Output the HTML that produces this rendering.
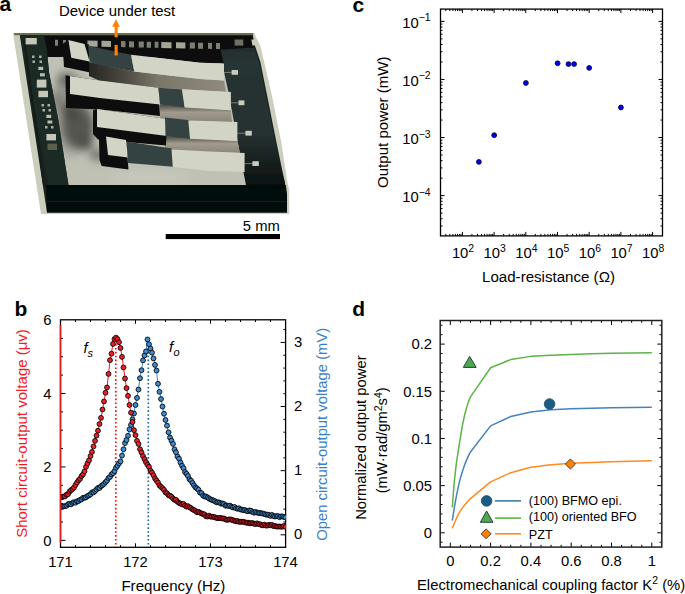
<!DOCTYPE html>
<html><head><meta charset="utf-8"><style>
html,body{margin:0;padding:0;background:#fff;}
svg{display:block;font-family:"Liberation Sans", sans-serif;}
</style></head><body>
<svg width="685" height="594" viewBox="0 0 685 594">
<defs>
<filter id="soft" x="-5%" y="-5%" width="110%" height="110%"><feGaussianBlur stdDeviation="0.45"/></filter>
<filter id="blur4" x="-50%" y="-50%" width="200%" height="200%"><feGaussianBlur stdDeviation="6"/></filter>
<linearGradient id="gband1" gradientUnits="userSpaceOnUse" x1="89" y1="0" x2="226" y2="0"><stop offset="0" stop-color="#262622"/><stop offset="0.25" stop-color="#4a473f"/><stop offset="0.5" stop-color="#7a766a"/><stop offset="1" stop-color="#8e8a7d"/></linearGradient>
<linearGradient id="gband2" x1="0" y1="0" x2="0" y2="1"><stop offset="0" stop-color="#4a4740"/><stop offset="0.45" stop-color="#a19c8e"/><stop offset="1" stop-color="#8a8579"/></linearGradient>
<linearGradient id="gframe" gradientUnits="userSpaceOnUse" x1="0" y1="44" x2="0" y2="192"><stop offset="0" stop-color="#222c2c"/><stop offset="0.12" stop-color="#283434"/><stop offset="0.6" stop-color="#263131"/><stop offset="0.82" stop-color="#161e1d"/><stop offset="1" stop-color="#080c0b"/></linearGradient>
<filter id="blur3" x="-50%" y="-50%" width="200%" height="200%"><feGaussianBlur stdDeviation="4"/></filter>
</defs>
<rect width="685" height="594" fill="#fff"/>
<g filter="url(#soft)">
<polygon points="13,33 254,33 260.4,46 271.6,94 281.2,142 287.6,183.5 289.2,190 289.2,214 41,214" fill="#c9cebd" />
<polygon points="19.5,33.5 252.5,33.5 254,42.8 260.4,62 266.8,94 276.4,142 284.4,180.4 287,196 287,212.6 47,212.6" fill="#1b2422" />
<polygon points="220.5,49 254,47.5 259,62 265.5,94 275,142 282,172 284.4,180.4 286,190 246,190 242,165 229,95" fill="url(#gframe)" />
<polygon points="45,57 221,57 229,95 242,165 246,185 68.5,185 65.7,167.8 62.1,144.3 58.6,120.7 53.9,97 49.2,73.6 46.8,50" fill="#bfc1b5" />
<ellipse cx="72" cy="115" rx="20" ry="40" fill="#8a8a82" opacity="0.7" filter="url(#blur4)"/>
<g filter="url(#blur3)">
<ellipse cx="78" cy="127" rx="15" ry="21" fill="#55554f"/>
<ellipse cx="70" cy="112" rx="8" ry="10" fill="#4a4a45"/>
<ellipse cx="85" cy="142" rx="8" ry="8" fill="#505049"/>
<ellipse cx="66" cy="80" rx="9" ry="7" fill="#6a6a63"/>
<ellipse cx="58" cy="100" rx="5" ry="10" fill="#7a7a72"/>
<ellipse cx="97" cy="155" rx="7" ry="6" fill="#6f6f68"/>
</g>
<ellipse cx="150" cy="178" rx="40" ry="5" fill="#d0d2c6" opacity="0.6" filter="url(#blur4)"/>
<polygon points="19.5,33.5 252.5,33.5 254.5,47.5 220.5,49.5 222,57 224,63.5 200,62.8 131,54.8 100,48 89,44.6 60,57 45,57" fill="#0b100d" />
<polygon points="14,33 253,33 253.6,35.2 14.3,35.2" fill="#6a6f50" />
<polygon points="20.5,36 44,36 46.8,50 49.2,73.6 53.9,97 58.6,120.7 62.1,144.3 65.7,167.8 68,182 68.5,185 49,185" fill="#1e2927" />
<polygon points="23,40 25,40 45,185 43,185" fill="#121a18" />
<polygon points="46,185 286,185 287,196 287,212.6 47,212.6" fill="#060908" />
<polygon points="47,201 287,201 287,202.5 47,202.5" fill="#141a18" />
<polygon points="55,39.8 58,39.86 58,45.86 55,45.8" fill="#7c8072" />
<polygon points="63,39.96 66,40.02 66,46.02 63,45.96" fill="#7c8072" />
<polygon points="87.4,40.45 97.6,40.65 97.6,46.65 87.4,46.45" fill="#a3a697" />
<polygon points="101.5,40.73 111,40.92 111,46.92 101.5,46.73" fill="#a3a697" />
<polygon points="121,41.12 125.5,41.21 125.5,47.21 121,47.12" fill="#7c8072" />
<polygon points="129,41.28 134,41.38 134,47.38 129,47.28" fill="#7c8072" />
<polygon points="138.7,41.47 143.8,41.58 143.8,47.58 138.7,47.47" fill="#7c8072" />
<polygon points="146.7,41.63 151,41.72 151,47.72 146.7,47.63" fill="#7c8072" />
<polygon points="154.7,41.79 158.4,41.87 158.4,47.87 154.7,47.79" fill="#7c8072" />
<polygon points="161.3,41.93 171.5,42.13 171.5,48.13 161.3,47.93" fill="#a3a697" />
<polygon points="176,42.22 185.4,42.41 185.4,48.41 176,48.22" fill="#a3a697" />
<polygon points="189.8,42.5 195,42.6 195,48.6 189.8,48.5" fill="#7c8072" />
<polygon points="198,42.66 203,42.76 203,48.76 198,48.66" fill="#7c8072" />
<polygon points="208,42.86 212,42.94 212,48.94 208,48.86" fill="#7c8072" />
<polygon points="216,43.02 220,43.1 220,49.1 216,49.02" fill="#7c8072" />
<polygon points="234.6,39.5 243.3,39.5 243.3,45.6 234.6,45.6" fill="#6d7163" />
<polygon points="251.3,39.5 257,39.5 259.4,45.4 252.5,45.4" fill="#c9ccbc" />
<polygon points="25.6,38 36.8,38 36.8,44.4 25.6,44.4" fill="#c5c8b8" />
<polygon points="32,55.5 34.5,55.5 34.5,58 32,58" fill="#aab0a0" />
<polygon points="39,55.5 41.6,55.5 41.6,58 39,58" fill="#aab0a0" />
<polygon points="32.5,60.5 35,60.5 35,63 32.5,63" fill="#aab0a0" />
<polygon points="39.5,60.5 42,60.5 42,63 39.5,63" fill="#aab0a0" />
<polygon points="38.4,66.8 43.2,66.8 43.2,70 38.4,70" fill="#b8bcac" />
<polygon points="40,73.2 44.8,73.2 44.8,76.4 40,76.4" fill="#b8bcac" />
<polygon points="36.8,79.6 46.4,79.6 46.4,87.6 36.8,87.6" fill="#c5c8b8" />
<polygon points="38.4,90.8 48,90.8 48,97.2 38.4,97.2" fill="#c5c8b8" />
<polygon points="41.5,104 44,104 44,106.5 41.5,106.5" fill="#aab0a0" />
<polygon points="47.5,104 50,104 50,106.5 47.5,106.5" fill="#aab0a0" />
<polygon points="42.5,109 45,109 45,111.5 42.5,111.5" fill="#aab0a0" />
<polygon points="48.5,109 51,109 51,111.5 48.5,111.5" fill="#aab0a0" />
<polygon points="46.4,114.8 51.2,114.8 51.2,118 46.4,118" fill="#b8bcac" />
<polygon points="47.5,120.5 52.3,120.5 52.3,123.5 47.5,123.5" fill="#b8bcac" />
<polygon points="45,126 47.5,126 47.5,128.5 45,128.5" fill="#aab0a0" />
<polygon points="51,126 53.5,126 53.5,128.5 51,128.5" fill="#aab0a0" />
<polygon points="46.4,134 56,134 56,140.4 46.4,140.4" fill="#c5c8b8" />
<polygon points="47.5,143.6 57,143.6 57,150 47.5,150" fill="#5a5e50" />
<polygon points="89,62 133.6,71.6 200,79 224,80.4 226,92 160,88 100,81 89,76" fill="url(#gband1)" />
<polygon points="62.5,44 68.4,39.9 84.5,43.9 89,44.6 89,72.3 64,67" fill="#0a0e0c" />
<polygon points="68.4,39.9 84.5,43.9 89.6,61.4 71.3,57.7" fill="#d2d5c5" />
<polygon points="88,45.5 100,48.5 131,54.8 134.3,71.6 100,65 89.6,62" fill="#344242" />
<polygon points="131,54.8 200,62.8 224,63.5 224,80.4 200,79 134.3,71.6" fill="#d2d5c5" />
<polygon points="160,104.5 230.9,110.3 232,122 190,121 160,118" fill="url(#gband2)" />
<polygon points="65.5,75.3 70,76 100,80.4 158.4,87.7 160,116 100,109.6 66,108" fill="#0a0e0c" />
<polygon points="70,76 100,80.4 158.4,87.7 160,104.5 100,98 70,94" fill="#d2d5c5" />
<polygon points="158.4,87.7 183,89.5 184.7,107.4 160,104.5" fill="#344242" />
<polygon points="181.8,89.3 230.9,92 230.9,110.3 184.7,107.4" fill="#d2d5c5" />
<polygon points="165,136 237.4,141 240,153 200,152 165,150" fill="url(#gband2)" />
<polygon points="93,110 97,109 167,119 166,145.5 98,139.5 93,134" fill="#0a0e0c" />
<polygon points="97,109 167,119 167,136 97,127" fill="#d2d5c5" />
<polygon points="165,117.6 189.5,120.3 190.5,138.8 165.5,136.2" fill="#344242" />
<polygon points="188.3,120.5 237.4,122 237.4,141 190,138.8" fill="#d2d5c5" />
<polygon points="99,139 106,136.6 126,140 128.5,169.5 101.7,166 99.5,160" fill="#0a0e0c" />
<polygon points="106,136.6 126,140 128,157.5 108,155" fill="#d2d5c5" />
<polygon points="126.5,141.5 172,148.5 173.5,166.8 128,163" fill="#344242" />
<polygon points="171.5,149.5 210,151.5 244.6,153 244.6,172 210,171 172.8,167" fill="#d2d5c5" />
<line x1="224" y1="72.4" x2="231.6" y2="72.4" stroke="#8c9488" stroke-width="0.8" />
<polygon points="231.6,70 238,70 238,74.8 231.6,74.8" fill="#c9ccbc" />
<line x1="231" y1="102.8" x2="238.5" y2="102.8" stroke="#8c9488" stroke-width="0.8" />
<polygon points="238.5,100.4 244.4,100.4 244.4,105.2 238.5,105.2" fill="#c9ccbc" />
<line x1="237.4" y1="133.2" x2="245.4" y2="133.2" stroke="#8c9488" stroke-width="0.8" />
<polygon points="245.4,130.8 251.8,130.8 251.8,135.6 245.4,135.6" fill="#c9ccbc" />
<line x1="244.6" y1="163.6" x2="252.4" y2="163.6" stroke="#8c9488" stroke-width="0.8" />
<polygon points="252.4,161.2 258.8,161.2 258.8,166 252.4,166" fill="#c9ccbc" />
</g>
<polygon points="116,19.2 112.1,26.7 119.9,26.7" fill="#ff8200" />
<rect x="114.6" y="26" width="3.1" height="11.3" fill="#ff8200"/>
<rect x="114.6" y="44.9" width="3.1" height="10.6" fill="#ff8200"/>
<text x="59" y="15.9" font-size="14.95" text-anchor="start" fill="#000" >Device under test</text>
<rect x="165.7" y="234" width="114.3" height="5.1" fill="#000"/>
<text x="279.8" y="230.6" font-size="14.8" text-anchor="end" fill="#000" >5 mm</text>
<line x1="445.82" y1="235.9" x2="445.82" y2="233.9" stroke="#000" stroke-width="1" />
<line x1="445.82" y1="9.1" x2="445.82" y2="11.1" stroke="#000" stroke-width="1" />
<line x1="449.79" y1="235.9" x2="449.79" y2="233.9" stroke="#000" stroke-width="1" />
<line x1="449.79" y1="9.1" x2="449.79" y2="11.1" stroke="#000" stroke-width="1" />
<line x1="452.86" y1="235.9" x2="452.86" y2="233.9" stroke="#000" stroke-width="1" />
<line x1="452.86" y1="9.1" x2="452.86" y2="11.1" stroke="#000" stroke-width="1" />
<line x1="455.37" y1="235.9" x2="455.37" y2="233.9" stroke="#000" stroke-width="1" />
<line x1="455.37" y1="9.1" x2="455.37" y2="11.1" stroke="#000" stroke-width="1" />
<line x1="457.49" y1="235.9" x2="457.49" y2="233.9" stroke="#000" stroke-width="1" />
<line x1="457.49" y1="9.1" x2="457.49" y2="11.1" stroke="#000" stroke-width="1" />
<line x1="459.33" y1="235.9" x2="459.33" y2="233.9" stroke="#000" stroke-width="1" />
<line x1="459.33" y1="9.1" x2="459.33" y2="11.1" stroke="#000" stroke-width="1" />
<line x1="460.95" y1="235.9" x2="460.95" y2="233.9" stroke="#000" stroke-width="1" />
<line x1="460.95" y1="9.1" x2="460.95" y2="11.1" stroke="#000" stroke-width="1" />
<line x1="462.4" y1="235.9" x2="462.4" y2="231.9" stroke="#000" stroke-width="1" />
<line x1="462.4" y1="9.1" x2="462.4" y2="13.1" stroke="#000" stroke-width="1" />
<line x1="471.94" y1="235.9" x2="471.94" y2="233.9" stroke="#000" stroke-width="1" />
<line x1="471.94" y1="9.1" x2="471.94" y2="11.1" stroke="#000" stroke-width="1" />
<line x1="477.52" y1="235.9" x2="477.52" y2="233.9" stroke="#000" stroke-width="1" />
<line x1="477.52" y1="9.1" x2="477.52" y2="11.1" stroke="#000" stroke-width="1" />
<line x1="481.49" y1="235.9" x2="481.49" y2="233.9" stroke="#000" stroke-width="1" />
<line x1="481.49" y1="9.1" x2="481.49" y2="11.1" stroke="#000" stroke-width="1" />
<line x1="484.56" y1="235.9" x2="484.56" y2="233.9" stroke="#000" stroke-width="1" />
<line x1="484.56" y1="9.1" x2="484.56" y2="11.1" stroke="#000" stroke-width="1" />
<line x1="487.07" y1="235.9" x2="487.07" y2="233.9" stroke="#000" stroke-width="1" />
<line x1="487.07" y1="9.1" x2="487.07" y2="11.1" stroke="#000" stroke-width="1" />
<line x1="489.19" y1="235.9" x2="489.19" y2="233.9" stroke="#000" stroke-width="1" />
<line x1="489.19" y1="9.1" x2="489.19" y2="11.1" stroke="#000" stroke-width="1" />
<line x1="491.03" y1="235.9" x2="491.03" y2="233.9" stroke="#000" stroke-width="1" />
<line x1="491.03" y1="9.1" x2="491.03" y2="11.1" stroke="#000" stroke-width="1" />
<line x1="492.65" y1="235.9" x2="492.65" y2="233.9" stroke="#000" stroke-width="1" />
<line x1="492.65" y1="9.1" x2="492.65" y2="11.1" stroke="#000" stroke-width="1" />
<line x1="494.1" y1="235.9" x2="494.1" y2="231.9" stroke="#000" stroke-width="1" />
<line x1="494.1" y1="9.1" x2="494.1" y2="13.1" stroke="#000" stroke-width="1" />
<line x1="503.64" y1="235.9" x2="503.64" y2="233.9" stroke="#000" stroke-width="1" />
<line x1="503.64" y1="9.1" x2="503.64" y2="11.1" stroke="#000" stroke-width="1" />
<line x1="509.22" y1="235.9" x2="509.22" y2="233.9" stroke="#000" stroke-width="1" />
<line x1="509.22" y1="9.1" x2="509.22" y2="11.1" stroke="#000" stroke-width="1" />
<line x1="513.19" y1="235.9" x2="513.19" y2="233.9" stroke="#000" stroke-width="1" />
<line x1="513.19" y1="9.1" x2="513.19" y2="11.1" stroke="#000" stroke-width="1" />
<line x1="516.26" y1="235.9" x2="516.26" y2="233.9" stroke="#000" stroke-width="1" />
<line x1="516.26" y1="9.1" x2="516.26" y2="11.1" stroke="#000" stroke-width="1" />
<line x1="518.77" y1="235.9" x2="518.77" y2="233.9" stroke="#000" stroke-width="1" />
<line x1="518.77" y1="9.1" x2="518.77" y2="11.1" stroke="#000" stroke-width="1" />
<line x1="520.89" y1="235.9" x2="520.89" y2="233.9" stroke="#000" stroke-width="1" />
<line x1="520.89" y1="9.1" x2="520.89" y2="11.1" stroke="#000" stroke-width="1" />
<line x1="522.73" y1="235.9" x2="522.73" y2="233.9" stroke="#000" stroke-width="1" />
<line x1="522.73" y1="9.1" x2="522.73" y2="11.1" stroke="#000" stroke-width="1" />
<line x1="524.35" y1="235.9" x2="524.35" y2="233.9" stroke="#000" stroke-width="1" />
<line x1="524.35" y1="9.1" x2="524.35" y2="11.1" stroke="#000" stroke-width="1" />
<line x1="525.8" y1="235.9" x2="525.8" y2="231.9" stroke="#000" stroke-width="1" />
<line x1="525.8" y1="9.1" x2="525.8" y2="13.1" stroke="#000" stroke-width="1" />
<line x1="535.34" y1="235.9" x2="535.34" y2="233.9" stroke="#000" stroke-width="1" />
<line x1="535.34" y1="9.1" x2="535.34" y2="11.1" stroke="#000" stroke-width="1" />
<line x1="540.92" y1="235.9" x2="540.92" y2="233.9" stroke="#000" stroke-width="1" />
<line x1="540.92" y1="9.1" x2="540.92" y2="11.1" stroke="#000" stroke-width="1" />
<line x1="544.89" y1="235.9" x2="544.89" y2="233.9" stroke="#000" stroke-width="1" />
<line x1="544.89" y1="9.1" x2="544.89" y2="11.1" stroke="#000" stroke-width="1" />
<line x1="547.96" y1="235.9" x2="547.96" y2="233.9" stroke="#000" stroke-width="1" />
<line x1="547.96" y1="9.1" x2="547.96" y2="11.1" stroke="#000" stroke-width="1" />
<line x1="550.47" y1="235.9" x2="550.47" y2="233.9" stroke="#000" stroke-width="1" />
<line x1="550.47" y1="9.1" x2="550.47" y2="11.1" stroke="#000" stroke-width="1" />
<line x1="552.59" y1="235.9" x2="552.59" y2="233.9" stroke="#000" stroke-width="1" />
<line x1="552.59" y1="9.1" x2="552.59" y2="11.1" stroke="#000" stroke-width="1" />
<line x1="554.43" y1="235.9" x2="554.43" y2="233.9" stroke="#000" stroke-width="1" />
<line x1="554.43" y1="9.1" x2="554.43" y2="11.1" stroke="#000" stroke-width="1" />
<line x1="556.05" y1="235.9" x2="556.05" y2="233.9" stroke="#000" stroke-width="1" />
<line x1="556.05" y1="9.1" x2="556.05" y2="11.1" stroke="#000" stroke-width="1" />
<line x1="557.5" y1="235.9" x2="557.5" y2="231.9" stroke="#000" stroke-width="1" />
<line x1="557.5" y1="9.1" x2="557.5" y2="13.1" stroke="#000" stroke-width="1" />
<line x1="567.04" y1="235.9" x2="567.04" y2="233.9" stroke="#000" stroke-width="1" />
<line x1="567.04" y1="9.1" x2="567.04" y2="11.1" stroke="#000" stroke-width="1" />
<line x1="572.62" y1="235.9" x2="572.62" y2="233.9" stroke="#000" stroke-width="1" />
<line x1="572.62" y1="9.1" x2="572.62" y2="11.1" stroke="#000" stroke-width="1" />
<line x1="576.59" y1="235.9" x2="576.59" y2="233.9" stroke="#000" stroke-width="1" />
<line x1="576.59" y1="9.1" x2="576.59" y2="11.1" stroke="#000" stroke-width="1" />
<line x1="579.66" y1="235.9" x2="579.66" y2="233.9" stroke="#000" stroke-width="1" />
<line x1="579.66" y1="9.1" x2="579.66" y2="11.1" stroke="#000" stroke-width="1" />
<line x1="582.17" y1="235.9" x2="582.17" y2="233.9" stroke="#000" stroke-width="1" />
<line x1="582.17" y1="9.1" x2="582.17" y2="11.1" stroke="#000" stroke-width="1" />
<line x1="584.29" y1="235.9" x2="584.29" y2="233.9" stroke="#000" stroke-width="1" />
<line x1="584.29" y1="9.1" x2="584.29" y2="11.1" stroke="#000" stroke-width="1" />
<line x1="586.13" y1="235.9" x2="586.13" y2="233.9" stroke="#000" stroke-width="1" />
<line x1="586.13" y1="9.1" x2="586.13" y2="11.1" stroke="#000" stroke-width="1" />
<line x1="587.75" y1="235.9" x2="587.75" y2="233.9" stroke="#000" stroke-width="1" />
<line x1="587.75" y1="9.1" x2="587.75" y2="11.1" stroke="#000" stroke-width="1" />
<line x1="589.2" y1="235.9" x2="589.2" y2="231.9" stroke="#000" stroke-width="1" />
<line x1="589.2" y1="9.1" x2="589.2" y2="13.1" stroke="#000" stroke-width="1" />
<line x1="598.74" y1="235.9" x2="598.74" y2="233.9" stroke="#000" stroke-width="1" />
<line x1="598.74" y1="9.1" x2="598.74" y2="11.1" stroke="#000" stroke-width="1" />
<line x1="604.32" y1="235.9" x2="604.32" y2="233.9" stroke="#000" stroke-width="1" />
<line x1="604.32" y1="9.1" x2="604.32" y2="11.1" stroke="#000" stroke-width="1" />
<line x1="608.29" y1="235.9" x2="608.29" y2="233.9" stroke="#000" stroke-width="1" />
<line x1="608.29" y1="9.1" x2="608.29" y2="11.1" stroke="#000" stroke-width="1" />
<line x1="611.36" y1="235.9" x2="611.36" y2="233.9" stroke="#000" stroke-width="1" />
<line x1="611.36" y1="9.1" x2="611.36" y2="11.1" stroke="#000" stroke-width="1" />
<line x1="613.87" y1="235.9" x2="613.87" y2="233.9" stroke="#000" stroke-width="1" />
<line x1="613.87" y1="9.1" x2="613.87" y2="11.1" stroke="#000" stroke-width="1" />
<line x1="615.99" y1="235.9" x2="615.99" y2="233.9" stroke="#000" stroke-width="1" />
<line x1="615.99" y1="9.1" x2="615.99" y2="11.1" stroke="#000" stroke-width="1" />
<line x1="617.83" y1="235.9" x2="617.83" y2="233.9" stroke="#000" stroke-width="1" />
<line x1="617.83" y1="9.1" x2="617.83" y2="11.1" stroke="#000" stroke-width="1" />
<line x1="619.45" y1="235.9" x2="619.45" y2="233.9" stroke="#000" stroke-width="1" />
<line x1="619.45" y1="9.1" x2="619.45" y2="11.1" stroke="#000" stroke-width="1" />
<line x1="620.9" y1="235.9" x2="620.9" y2="231.9" stroke="#000" stroke-width="1" />
<line x1="620.9" y1="9.1" x2="620.9" y2="13.1" stroke="#000" stroke-width="1" />
<line x1="630.44" y1="235.9" x2="630.44" y2="233.9" stroke="#000" stroke-width="1" />
<line x1="630.44" y1="9.1" x2="630.44" y2="11.1" stroke="#000" stroke-width="1" />
<line x1="636.02" y1="235.9" x2="636.02" y2="233.9" stroke="#000" stroke-width="1" />
<line x1="636.02" y1="9.1" x2="636.02" y2="11.1" stroke="#000" stroke-width="1" />
<line x1="639.99" y1="235.9" x2="639.99" y2="233.9" stroke="#000" stroke-width="1" />
<line x1="639.99" y1="9.1" x2="639.99" y2="11.1" stroke="#000" stroke-width="1" />
<line x1="643.06" y1="235.9" x2="643.06" y2="233.9" stroke="#000" stroke-width="1" />
<line x1="643.06" y1="9.1" x2="643.06" y2="11.1" stroke="#000" stroke-width="1" />
<line x1="645.57" y1="235.9" x2="645.57" y2="233.9" stroke="#000" stroke-width="1" />
<line x1="645.57" y1="9.1" x2="645.57" y2="11.1" stroke="#000" stroke-width="1" />
<line x1="647.69" y1="235.9" x2="647.69" y2="233.9" stroke="#000" stroke-width="1" />
<line x1="647.69" y1="9.1" x2="647.69" y2="11.1" stroke="#000" stroke-width="1" />
<line x1="649.53" y1="235.9" x2="649.53" y2="233.9" stroke="#000" stroke-width="1" />
<line x1="649.53" y1="9.1" x2="649.53" y2="11.1" stroke="#000" stroke-width="1" />
<line x1="651.15" y1="235.9" x2="651.15" y2="233.9" stroke="#000" stroke-width="1" />
<line x1="651.15" y1="9.1" x2="651.15" y2="11.1" stroke="#000" stroke-width="1" />
<line x1="652.6" y1="235.9" x2="652.6" y2="231.9" stroke="#000" stroke-width="1" />
<line x1="652.6" y1="9.1" x2="652.6" y2="13.1" stroke="#000" stroke-width="1" />
<line x1="440.5" y1="225.97" x2="442.5" y2="225.97" stroke="#000" stroke-width="1" />
<line x1="662.5" y1="225.97" x2="660.5" y2="225.97" stroke="#000" stroke-width="1" />
<line x1="440.5" y1="218.72" x2="442.5" y2="218.72" stroke="#000" stroke-width="1" />
<line x1="662.5" y1="218.72" x2="660.5" y2="218.72" stroke="#000" stroke-width="1" />
<line x1="440.5" y1="213.09" x2="442.5" y2="213.09" stroke="#000" stroke-width="1" />
<line x1="662.5" y1="213.09" x2="660.5" y2="213.09" stroke="#000" stroke-width="1" />
<line x1="440.5" y1="208.49" x2="442.5" y2="208.49" stroke="#000" stroke-width="1" />
<line x1="662.5" y1="208.49" x2="660.5" y2="208.49" stroke="#000" stroke-width="1" />
<line x1="440.5" y1="204.61" x2="442.5" y2="204.61" stroke="#000" stroke-width="1" />
<line x1="662.5" y1="204.61" x2="660.5" y2="204.61" stroke="#000" stroke-width="1" />
<line x1="440.5" y1="201.24" x2="442.5" y2="201.24" stroke="#000" stroke-width="1" />
<line x1="662.5" y1="201.24" x2="660.5" y2="201.24" stroke="#000" stroke-width="1" />
<line x1="440.5" y1="198.27" x2="442.5" y2="198.27" stroke="#000" stroke-width="1" />
<line x1="662.5" y1="198.27" x2="660.5" y2="198.27" stroke="#000" stroke-width="1" />
<line x1="440.5" y1="195.61" x2="444.5" y2="195.61" stroke="#000" stroke-width="1" />
<line x1="662.5" y1="195.61" x2="658.5" y2="195.61" stroke="#000" stroke-width="1" />
<line x1="440.5" y1="178.13" x2="442.5" y2="178.13" stroke="#000" stroke-width="1" />
<line x1="662.5" y1="178.13" x2="660.5" y2="178.13" stroke="#000" stroke-width="1" />
<line x1="440.5" y1="167.9" x2="442.5" y2="167.9" stroke="#000" stroke-width="1" />
<line x1="662.5" y1="167.9" x2="660.5" y2="167.9" stroke="#000" stroke-width="1" />
<line x1="440.5" y1="160.65" x2="442.5" y2="160.65" stroke="#000" stroke-width="1" />
<line x1="662.5" y1="160.65" x2="660.5" y2="160.65" stroke="#000" stroke-width="1" />
<line x1="440.5" y1="155.02" x2="442.5" y2="155.02" stroke="#000" stroke-width="1" />
<line x1="662.5" y1="155.02" x2="660.5" y2="155.02" stroke="#000" stroke-width="1" />
<line x1="440.5" y1="150.42" x2="442.5" y2="150.42" stroke="#000" stroke-width="1" />
<line x1="662.5" y1="150.42" x2="660.5" y2="150.42" stroke="#000" stroke-width="1" />
<line x1="440.5" y1="146.54" x2="442.5" y2="146.54" stroke="#000" stroke-width="1" />
<line x1="662.5" y1="146.54" x2="660.5" y2="146.54" stroke="#000" stroke-width="1" />
<line x1="440.5" y1="143.17" x2="442.5" y2="143.17" stroke="#000" stroke-width="1" />
<line x1="662.5" y1="143.17" x2="660.5" y2="143.17" stroke="#000" stroke-width="1" />
<line x1="440.5" y1="140.2" x2="442.5" y2="140.2" stroke="#000" stroke-width="1" />
<line x1="662.5" y1="140.2" x2="660.5" y2="140.2" stroke="#000" stroke-width="1" />
<line x1="440.5" y1="137.54" x2="444.5" y2="137.54" stroke="#000" stroke-width="1" />
<line x1="662.5" y1="137.54" x2="658.5" y2="137.54" stroke="#000" stroke-width="1" />
<line x1="440.5" y1="120.06" x2="442.5" y2="120.06" stroke="#000" stroke-width="1" />
<line x1="662.5" y1="120.06" x2="660.5" y2="120.06" stroke="#000" stroke-width="1" />
<line x1="440.5" y1="109.83" x2="442.5" y2="109.83" stroke="#000" stroke-width="1" />
<line x1="662.5" y1="109.83" x2="660.5" y2="109.83" stroke="#000" stroke-width="1" />
<line x1="440.5" y1="102.58" x2="442.5" y2="102.58" stroke="#000" stroke-width="1" />
<line x1="662.5" y1="102.58" x2="660.5" y2="102.58" stroke="#000" stroke-width="1" />
<line x1="440.5" y1="96.95" x2="442.5" y2="96.95" stroke="#000" stroke-width="1" />
<line x1="662.5" y1="96.95" x2="660.5" y2="96.95" stroke="#000" stroke-width="1" />
<line x1="440.5" y1="92.35" x2="442.5" y2="92.35" stroke="#000" stroke-width="1" />
<line x1="662.5" y1="92.35" x2="660.5" y2="92.35" stroke="#000" stroke-width="1" />
<line x1="440.5" y1="88.47" x2="442.5" y2="88.47" stroke="#000" stroke-width="1" />
<line x1="662.5" y1="88.47" x2="660.5" y2="88.47" stroke="#000" stroke-width="1" />
<line x1="440.5" y1="85.1" x2="442.5" y2="85.1" stroke="#000" stroke-width="1" />
<line x1="662.5" y1="85.1" x2="660.5" y2="85.1" stroke="#000" stroke-width="1" />
<line x1="440.5" y1="82.13" x2="442.5" y2="82.13" stroke="#000" stroke-width="1" />
<line x1="662.5" y1="82.13" x2="660.5" y2="82.13" stroke="#000" stroke-width="1" />
<line x1="440.5" y1="79.47" x2="444.5" y2="79.47" stroke="#000" stroke-width="1" />
<line x1="662.5" y1="79.47" x2="658.5" y2="79.47" stroke="#000" stroke-width="1" />
<line x1="440.5" y1="61.99" x2="442.5" y2="61.99" stroke="#000" stroke-width="1" />
<line x1="662.5" y1="61.99" x2="660.5" y2="61.99" stroke="#000" stroke-width="1" />
<line x1="440.5" y1="51.76" x2="442.5" y2="51.76" stroke="#000" stroke-width="1" />
<line x1="662.5" y1="51.76" x2="660.5" y2="51.76" stroke="#000" stroke-width="1" />
<line x1="440.5" y1="44.51" x2="442.5" y2="44.51" stroke="#000" stroke-width="1" />
<line x1="662.5" y1="44.51" x2="660.5" y2="44.51" stroke="#000" stroke-width="1" />
<line x1="440.5" y1="38.88" x2="442.5" y2="38.88" stroke="#000" stroke-width="1" />
<line x1="662.5" y1="38.88" x2="660.5" y2="38.88" stroke="#000" stroke-width="1" />
<line x1="440.5" y1="34.28" x2="442.5" y2="34.28" stroke="#000" stroke-width="1" />
<line x1="662.5" y1="34.28" x2="660.5" y2="34.28" stroke="#000" stroke-width="1" />
<line x1="440.5" y1="30.4" x2="442.5" y2="30.4" stroke="#000" stroke-width="1" />
<line x1="662.5" y1="30.4" x2="660.5" y2="30.4" stroke="#000" stroke-width="1" />
<line x1="440.5" y1="27.03" x2="442.5" y2="27.03" stroke="#000" stroke-width="1" />
<line x1="662.5" y1="27.03" x2="660.5" y2="27.03" stroke="#000" stroke-width="1" />
<line x1="440.5" y1="24.06" x2="442.5" y2="24.06" stroke="#000" stroke-width="1" />
<line x1="662.5" y1="24.06" x2="660.5" y2="24.06" stroke="#000" stroke-width="1" />
<line x1="440.5" y1="21.4" x2="444.5" y2="21.4" stroke="#000" stroke-width="1" />
<line x1="662.5" y1="21.4" x2="658.5" y2="21.4" stroke="#000" stroke-width="1" />
<rect x="440.5" y="9.1" width="222.0" height="226.8" fill="none" stroke="#000" stroke-width="1.3"/>
<text x="430.6" y="28.1" font-size="14.8" text-anchor="end">10<tspan dy="-6.7" font-size="10.4">−1</tspan></text>
<text x="430.6" y="86.17" font-size="14.8" text-anchor="end">10<tspan dy="-6.7" font-size="10.4">−2</tspan></text>
<text x="430.6" y="144.24" font-size="14.8" text-anchor="end">10<tspan dy="-6.7" font-size="10.4">−3</tspan></text>
<text x="430.6" y="202.31" font-size="14.8" text-anchor="end">10<tspan dy="-6.7" font-size="10.4">−4</tspan></text>
<text x="463" y="257.8" font-size="14.8" text-anchor="middle">10<tspan dy="-5.8" font-size="10.4">2</tspan></text>
<text x="494.7" y="257.8" font-size="14.8" text-anchor="middle">10<tspan dy="-5.8" font-size="10.4">3</tspan></text>
<text x="526.4" y="257.8" font-size="14.8" text-anchor="middle">10<tspan dy="-5.8" font-size="10.4">4</tspan></text>
<text x="558.1" y="257.8" font-size="14.8" text-anchor="middle">10<tspan dy="-5.8" font-size="10.4">5</tspan></text>
<text x="589.8" y="257.8" font-size="14.8" text-anchor="middle">10<tspan dy="-5.8" font-size="10.4">6</tspan></text>
<text x="621.5" y="257.8" font-size="14.8" text-anchor="middle">10<tspan dy="-5.8" font-size="10.4">7</tspan></text>
<text x="653.2" y="257.8" font-size="14.8" text-anchor="middle">10<tspan dy="-5.8" font-size="10.4">8</tspan></text>
<text x="548.5" y="281.5" font-size="15.1" text-anchor="middle" fill="#000" >Load-resistance (Ω)</text>
<text transform="translate(388.3,122.2) rotate(-90)" font-size="15.1" text-anchor="middle">Output power (mW)</text>
<circle cx="478.9" cy="161.9" r="2.45" fill="#0000f0" stroke="#000028" stroke-width="0.8"/>
<circle cx="494.2" cy="135.2" r="2.45" fill="#0000f0" stroke="#000028" stroke-width="0.8"/>
<circle cx="525.9" cy="83" r="2.45" fill="#0000f0" stroke="#000028" stroke-width="0.8"/>
<circle cx="557.6" cy="63.3" r="2.45" fill="#0000f0" stroke="#000028" stroke-width="0.8"/>
<circle cx="568.5" cy="64.1" r="2.45" fill="#0000f0" stroke="#000028" stroke-width="0.8"/>
<circle cx="574.1" cy="64.1" r="2.45" fill="#0000f0" stroke="#000028" stroke-width="0.8"/>
<circle cx="589.2" cy="67.9" r="2.45" fill="#0000f0" stroke="#000028" stroke-width="0.8"/>
<circle cx="620.9" cy="107.5" r="2.45" fill="#0000f0" stroke="#000028" stroke-width="0.8"/>
<line x1="75.5" y1="547.3" x2="75.5" y2="545.1" stroke="#000" stroke-width="1.0" />
<line x1="75.5" y1="319.8" x2="75.5" y2="322" stroke="#000" stroke-width="1.0" />
<line x1="90.5" y1="547.3" x2="90.5" y2="545.1" stroke="#000" stroke-width="1.0" />
<line x1="90.5" y1="319.8" x2="90.5" y2="322" stroke="#000" stroke-width="1.0" />
<line x1="105.5" y1="547.3" x2="105.5" y2="545.1" stroke="#000" stroke-width="1.0" />
<line x1="105.5" y1="319.8" x2="105.5" y2="322" stroke="#000" stroke-width="1.0" />
<line x1="120.5" y1="547.3" x2="120.5" y2="545.1" stroke="#000" stroke-width="1.0" />
<line x1="120.5" y1="319.8" x2="120.5" y2="322" stroke="#000" stroke-width="1.0" />
<line x1="135.5" y1="547.3" x2="135.5" y2="543.3" stroke="#000" stroke-width="1.0" />
<line x1="135.5" y1="319.8" x2="135.5" y2="323.8" stroke="#000" stroke-width="1.0" />
<line x1="150.5" y1="547.3" x2="150.5" y2="545.1" stroke="#000" stroke-width="1.0" />
<line x1="150.5" y1="319.8" x2="150.5" y2="322" stroke="#000" stroke-width="1.0" />
<line x1="165.5" y1="547.3" x2="165.5" y2="545.1" stroke="#000" stroke-width="1.0" />
<line x1="165.5" y1="319.8" x2="165.5" y2="322" stroke="#000" stroke-width="1.0" />
<line x1="180.5" y1="547.3" x2="180.5" y2="545.1" stroke="#000" stroke-width="1.0" />
<line x1="180.5" y1="319.8" x2="180.5" y2="322" stroke="#000" stroke-width="1.0" />
<line x1="195.5" y1="547.3" x2="195.5" y2="545.1" stroke="#000" stroke-width="1.0" />
<line x1="195.5" y1="319.8" x2="195.5" y2="322" stroke="#000" stroke-width="1.0" />
<line x1="210.5" y1="547.3" x2="210.5" y2="543.3" stroke="#000" stroke-width="1.0" />
<line x1="210.5" y1="319.8" x2="210.5" y2="323.8" stroke="#000" stroke-width="1.0" />
<line x1="225.5" y1="547.3" x2="225.5" y2="545.1" stroke="#000" stroke-width="1.0" />
<line x1="225.5" y1="319.8" x2="225.5" y2="322" stroke="#000" stroke-width="1.0" />
<line x1="240.5" y1="547.3" x2="240.5" y2="545.1" stroke="#000" stroke-width="1.0" />
<line x1="240.5" y1="319.8" x2="240.5" y2="322" stroke="#000" stroke-width="1.0" />
<line x1="255.5" y1="547.3" x2="255.5" y2="545.1" stroke="#000" stroke-width="1.0" />
<line x1="255.5" y1="319.8" x2="255.5" y2="322" stroke="#000" stroke-width="1.0" />
<line x1="270.5" y1="547.3" x2="270.5" y2="545.1" stroke="#000" stroke-width="1.0" />
<line x1="270.5" y1="319.8" x2="270.5" y2="322" stroke="#000" stroke-width="1.0" />
<line x1="60.5" y1="540.4" x2="65.5" y2="540.4" stroke="#000" stroke-width="1.0" />
<line x1="60.5" y1="522.03" x2="63" y2="522.03" stroke="#000" stroke-width="1.0" />
<line x1="60.5" y1="503.67" x2="63" y2="503.67" stroke="#000" stroke-width="1.0" />
<line x1="60.5" y1="485.3" x2="63" y2="485.3" stroke="#000" stroke-width="1.0" />
<line x1="60.5" y1="466.94" x2="65.5" y2="466.94" stroke="#000" stroke-width="1.0" />
<line x1="60.5" y1="448.57" x2="63" y2="448.57" stroke="#000" stroke-width="1.0" />
<line x1="60.5" y1="430.21" x2="63" y2="430.21" stroke="#000" stroke-width="1.0" />
<line x1="60.5" y1="411.85" x2="63" y2="411.85" stroke="#000" stroke-width="1.0" />
<line x1="60.5" y1="393.48" x2="65.5" y2="393.48" stroke="#000" stroke-width="1.0" />
<line x1="60.5" y1="375.12" x2="63" y2="375.12" stroke="#000" stroke-width="1.0" />
<line x1="60.5" y1="356.75" x2="63" y2="356.75" stroke="#000" stroke-width="1.0" />
<line x1="60.5" y1="338.38" x2="63" y2="338.38" stroke="#000" stroke-width="1.0" />
<line x1="285.6" y1="534.8" x2="280.6" y2="534.8" stroke="#000" stroke-width="1.0" />
<line x1="285.6" y1="521.97" x2="283.4" y2="521.97" stroke="#000" stroke-width="1.0" />
<line x1="285.6" y1="509.15" x2="283.4" y2="509.15" stroke="#000" stroke-width="1.0" />
<line x1="285.6" y1="496.32" x2="283.4" y2="496.32" stroke="#000" stroke-width="1.0" />
<line x1="285.6" y1="483.5" x2="283.4" y2="483.5" stroke="#000" stroke-width="1.0" />
<line x1="285.6" y1="470.67" x2="280.6" y2="470.67" stroke="#000" stroke-width="1.0" />
<line x1="285.6" y1="457.84" x2="283.4" y2="457.84" stroke="#000" stroke-width="1.0" />
<line x1="285.6" y1="445.02" x2="283.4" y2="445.02" stroke="#000" stroke-width="1.0" />
<line x1="285.6" y1="432.19" x2="283.4" y2="432.19" stroke="#000" stroke-width="1.0" />
<line x1="285.6" y1="419.37" x2="283.4" y2="419.37" stroke="#000" stroke-width="1.0" />
<line x1="285.6" y1="406.54" x2="280.6" y2="406.54" stroke="#000" stroke-width="1.0" />
<line x1="285.6" y1="393.71" x2="283.4" y2="393.71" stroke="#000" stroke-width="1.0" />
<line x1="285.6" y1="380.89" x2="283.4" y2="380.89" stroke="#000" stroke-width="1.0" />
<line x1="285.6" y1="368.06" x2="283.4" y2="368.06" stroke="#000" stroke-width="1.0" />
<line x1="285.6" y1="355.24" x2="283.4" y2="355.24" stroke="#000" stroke-width="1.0" />
<line x1="285.6" y1="342.41" x2="280.6" y2="342.41" stroke="#000" stroke-width="1.0" />
<line x1="285.6" y1="329.58" x2="283.4" y2="329.58" stroke="#000" stroke-width="1.0" />
<rect x="60.5" y="319.8" width="225.10000000000002" height="227.49999999999994" fill="none" stroke="#000" stroke-width="1.3"/>
<text x="51.6" y="545.7" font-size="14.8" text-anchor="end" fill="#000" >0</text>
<text x="51.6" y="472.24" font-size="14.8" text-anchor="end" fill="#000" >2</text>
<text x="51.6" y="398.78" font-size="14.8" text-anchor="end" fill="#000" >4</text>
<text x="51.6" y="325.32" font-size="14.8" text-anchor="end" fill="#000" >6</text>
<text x="294" y="538.9" font-size="14.8" text-anchor="start" fill="#000" >0</text>
<text x="294" y="474.77" font-size="14.8" text-anchor="start" fill="#000" >1</text>
<text x="294" y="410.64" font-size="14.8" text-anchor="start" fill="#000" >2</text>
<text x="294" y="346.51" font-size="14.8" text-anchor="start" fill="#000" >3</text>
<text x="60.5" y="567" font-size="14.8" text-anchor="middle" fill="#000" >171</text>
<text x="135.5" y="567" font-size="14.8" text-anchor="middle" fill="#000" >172</text>
<text x="210.5" y="567" font-size="14.8" text-anchor="middle" fill="#000" >173</text>
<text x="285.5" y="567" font-size="14.8" text-anchor="middle" fill="#000" >174</text>
<text x="173.4" y="590.6" font-size="15.1" text-anchor="middle" fill="#000" >Frequency (Hz)</text>
<text transform="translate(27.2,433.5) rotate(-90)" font-size="15" text-anchor="middle" fill="#ee1c24">Short circuit-output voltage (μv)</text>
<text transform="translate(326.6,434.3) rotate(-90)" font-size="14.8" text-anchor="middle" fill="#3a80c4">Open circuit-output voltage (mV)</text>
<text x="83.6" y="352.6" font-size="14.8" font-style="italic">f</text>
<text x="87.6" y="357.4" font-size="11" font-style="italic">s</text>
<text x="169.1" y="351.5" font-size="14.8" font-style="italic">f</text>
<text x="173.4" y="355.6" font-size="11" font-style="italic">o</text>
<line x1="115.8" y1="344" x2="115.8" y2="547" stroke="#f01010" stroke-width="1.7" stroke-dasharray="1.6 2.3"/>
<line x1="148.3" y1="344" x2="148.3" y2="547" stroke="#1f6a9a" stroke-width="1.7" stroke-dasharray="1.6 2.3"/>
<clipPath id="clipb"><rect x="60.5" y="319.8" width="225.10000000000002" height="227.49999999999994"/></clipPath>
<g clip-path="url(#clipb)">
<polyline fill="none" stroke="#3f8bd0" stroke-width="1" points="60.5,507.3 62,506.91 63.5,506.48 65,506.02 66.5,505.52 68,505 69.5,504.44 71,503.86 72.5,503.26 74,502.62 75.5,501.97 77,501.3 78.5,500.6 80,499.9 81.5,499.16 83,498.4 84.5,497.6 86,496.77 87.5,495.9 89,494.99 90.5,494.04 92,493.05 93.5,492.02 95,490.94 96.5,489.83 98,488.66 99.5,487.45 101,486.18 102.5,484.82 104,483.34 105.5,481.76 107,480.08 108.5,478.32 110,476.47 111.5,474.55 113,472.56 114.5,470.5 116,468.44 117.5,466.27 119,463.75 120.5,460.63 122,455.7 123.5,449.11 125,443.39 126.5,440 128,435.99 129.5,429.59 131,424.85 132.5,419.27 134,412.87 135.5,404.72 137,397.27 138.5,388.96 140,377.42 141.5,369.95 143,360.9 144.5,354.84 146,350.69 147.5,338.8 149,344.12 150.5,348.13 152,353.13 153.5,357.88 155,364.82 156.5,370.88 158,384.5 159.5,391.31 161,398.23 162.5,407.21 164,413.27 165.5,420.13 167,426.17 168.5,432.66 170,437.11 171.5,440.1 173,444.65 174.5,449.21 176,453.04 177.5,456.16 179,459.01 180.5,461.9 182,465 183.5,468.16 185,471.26 186.5,474.15 188,476.72 189.5,479.11 191,481.37 192.5,483.49 194,485.47 195.5,487.3 197,488.96 198.5,490.55 200,492.06 201.5,493.44 203,494.69 204.5,495.78 206,496.7 207.5,497.56 209,498.35 210.5,499.09 212,499.79 213.5,500.44 215,501.06 216.5,501.65 218,502.22 219.5,502.78 221,503.32 222.5,503.86 224,504.4 225.5,504.92 227,505.43 228.5,505.93 230,506.41 231.5,506.87 233,507.32 234.5,507.76 236,508.17 237.5,508.57 239,508.96 240.5,509.32 242,509.66 243.5,509.99 245,510.3 246.5,510.6 248,510.89 249.5,511.17 251,511.45 252.5,511.73 254,512.01 255.5,512.29 257,512.58 258.5,512.88 260,513.2 261.5,513.53 263,513.87 264.5,514.21 266,514.54 267.5,514.87 269,515.18 270.5,515.47 272,515.74 273.5,515.98 275,516.19 276.5,516.37 278,516.53 279.5,516.69 281,516.83 282.5,516.95 284,517.05 285.5,517.14"/>
<polyline fill="none" stroke="#e8202a" stroke-width="1" points="60.5,497.8 62,497.42 63.5,496.79 65,495.93 66.5,494.85 68,493.58 69.5,492.15 71,490.55 72.5,488.83 74,486.99 75.5,485.05 77,483.05 78.5,480.98 80,478.88 81.5,476.6 83,473.88 84.5,470.8 86,467.4 87.5,463.74 89,459.87 90.5,455.85 92,451.48 93.5,446.66 95,441.46 96.5,435.97 98,430.25 99.5,424.39 101,418.14 102.5,409.67 104,401.56 105.5,392.9 107,386.79 108.5,374.49 110,360.93 111.5,353 113,343.36 114.5,338.31 116,337.72 117.5,338.47 119,341.53 120.5,348.45 122,356.53 123.5,366.9 125,378.3 126.5,388.1 128,396.18 129.5,405.23 131,413.1 132.5,422.65 134,429.99 135.5,435.48 137,440.34 138.5,444.68 140,448.57 141.5,452.12 143,455.41 144.5,458.53 146,461.57 147.5,464.61 149,467.57 150.5,470.4 152,473.11 153.5,475.69 155,478.15 156.5,480.48 158,482.68 159.5,484.76 161,486.7 162.5,488.52 164,490.23 165.5,491.83 167,493.32 168.5,494.71 170,496 171.5,497.19 173,498.32 174.5,499.37 176,500.37 177.5,501.31 179,502.22 180.5,503.08 182,503.89 183.5,504.65 185,505.38 186.5,506.1 188,506.85 189.5,507.65 191,508.47 192.5,509.32 194,510.17 195.5,511.01 197,511.84 198.5,512.62 200,513.36 201.5,514.04 203,514.64 204.5,515.15 206,515.58 207.5,515.96 209,516.32 210.5,516.64 212,516.95 213.5,517.24 215,517.51 216.5,517.77 218,518.02 219.5,518.27 221,518.53 222.5,518.78 224,519.04 225.5,519.29 227,519.53 228.5,519.77 230,520 231.5,520.23 233,520.46 234.5,520.68 236,520.9 237.5,521.12 239,521.35 240.5,521.58 242,521.81 243.5,522.04 245,522.28 246.5,522.52 248,522.75 249.5,522.98 251,523.21 252.5,523.43 254,523.64 255.5,523.84 257,524.03 258.5,524.2 260,524.37 261.5,524.53 263,524.68 264.5,524.83 266,524.97 267.5,525.11 269,525.24 270.5,525.38 272,525.51 273.5,525.65 275,525.79 276.5,525.93 278,526.07 279.5,526.21 281,526.35 282.5,526.49 284,526.63 285.5,526.76"/>
<circle cx="60.5" cy="506.88" r="2.45" fill="#3f8bd0" stroke="#000" stroke-width="0.85"/>
<circle cx="62" cy="506.98" r="2.45" fill="#3f8bd0" stroke="#000" stroke-width="0.85"/>
<circle cx="63.5" cy="506.27" r="2.45" fill="#3f8bd0" stroke="#000" stroke-width="0.85"/>
<circle cx="65" cy="506.19" r="2.45" fill="#3f8bd0" stroke="#000" stroke-width="0.85"/>
<circle cx="66.5" cy="505.73" r="2.45" fill="#3f8bd0" stroke="#000" stroke-width="0.85"/>
<circle cx="68" cy="504.3" r="2.45" fill="#3f8bd0" stroke="#000" stroke-width="0.85"/>
<circle cx="69.5" cy="503.67" r="2.45" fill="#3f8bd0" stroke="#000" stroke-width="0.85"/>
<circle cx="71" cy="504.4" r="2.45" fill="#3f8bd0" stroke="#000" stroke-width="0.85"/>
<circle cx="72.5" cy="502.87" r="2.45" fill="#3f8bd0" stroke="#000" stroke-width="0.85"/>
<circle cx="74" cy="502.2" r="2.45" fill="#3f8bd0" stroke="#000" stroke-width="0.85"/>
<circle cx="75.5" cy="502.76" r="2.45" fill="#3f8bd0" stroke="#000" stroke-width="0.85"/>
<circle cx="77" cy="501.25" r="2.45" fill="#3f8bd0" stroke="#000" stroke-width="0.85"/>
<circle cx="78.5" cy="501.14" r="2.45" fill="#3f8bd0" stroke="#000" stroke-width="0.85"/>
<circle cx="80" cy="499.86" r="2.45" fill="#3f8bd0" stroke="#000" stroke-width="0.85"/>
<circle cx="81.5" cy="499.39" r="2.45" fill="#3f8bd0" stroke="#000" stroke-width="0.85"/>
<circle cx="83" cy="497.84" r="2.45" fill="#3f8bd0" stroke="#000" stroke-width="0.85"/>
<circle cx="84.5" cy="497.82" r="2.45" fill="#3f8bd0" stroke="#000" stroke-width="0.85"/>
<circle cx="86" cy="497.36" r="2.45" fill="#3f8bd0" stroke="#000" stroke-width="0.85"/>
<circle cx="87.5" cy="495.93" r="2.45" fill="#3f8bd0" stroke="#000" stroke-width="0.85"/>
<circle cx="89" cy="495.37" r="2.45" fill="#3f8bd0" stroke="#000" stroke-width="0.85"/>
<circle cx="90.5" cy="494.31" r="2.45" fill="#3f8bd0" stroke="#000" stroke-width="0.85"/>
<circle cx="92" cy="492.35" r="2.45" fill="#3f8bd0" stroke="#000" stroke-width="0.85"/>
<circle cx="93.5" cy="492.43" r="2.45" fill="#3f8bd0" stroke="#000" stroke-width="0.85"/>
<circle cx="95" cy="491.09" r="2.45" fill="#3f8bd0" stroke="#000" stroke-width="0.85"/>
<circle cx="96.5" cy="489.51" r="2.45" fill="#3f8bd0" stroke="#000" stroke-width="0.85"/>
<circle cx="98" cy="487.91" r="2.45" fill="#3f8bd0" stroke="#000" stroke-width="0.85"/>
<circle cx="99.5" cy="488.03" r="2.45" fill="#3f8bd0" stroke="#000" stroke-width="0.85"/>
<circle cx="101" cy="486.14" r="2.45" fill="#3f8bd0" stroke="#000" stroke-width="0.85"/>
<circle cx="102.5" cy="485.17" r="2.45" fill="#3f8bd0" stroke="#000" stroke-width="0.85"/>
<circle cx="104" cy="483.95" r="2.45" fill="#3f8bd0" stroke="#000" stroke-width="0.85"/>
<circle cx="105.5" cy="482.1" r="2.45" fill="#3f8bd0" stroke="#000" stroke-width="0.85"/>
<circle cx="107" cy="480.76" r="2.45" fill="#3f8bd0" stroke="#000" stroke-width="0.85"/>
<circle cx="108.5" cy="478.15" r="2.45" fill="#3f8bd0" stroke="#000" stroke-width="0.85"/>
<circle cx="110" cy="476.95" r="2.45" fill="#3f8bd0" stroke="#000" stroke-width="0.85"/>
<circle cx="111.5" cy="474.46" r="2.45" fill="#3f8bd0" stroke="#000" stroke-width="0.85"/>
<circle cx="113" cy="473.25" r="2.45" fill="#3f8bd0" stroke="#000" stroke-width="0.85"/>
<circle cx="114.5" cy="471.11" r="2.45" fill="#3f8bd0" stroke="#000" stroke-width="0.85"/>
<circle cx="116" cy="467.8" r="2.45" fill="#3f8bd0" stroke="#000" stroke-width="0.85"/>
<circle cx="117.5" cy="465.69" r="2.45" fill="#3f8bd0" stroke="#000" stroke-width="0.85"/>
<circle cx="119" cy="463.29" r="2.45" fill="#3f8bd0" stroke="#000" stroke-width="0.85"/>
<circle cx="120.5" cy="461.38" r="2.45" fill="#3f8bd0" stroke="#000" stroke-width="0.85"/>
<circle cx="122" cy="455.59" r="2.45" fill="#3f8bd0" stroke="#000" stroke-width="0.85"/>
<circle cx="123.5" cy="449.32" r="2.45" fill="#3f8bd0" stroke="#000" stroke-width="0.85"/>
<circle cx="125" cy="443.07" r="2.45" fill="#3f8bd0" stroke="#000" stroke-width="0.85"/>
<circle cx="126.5" cy="440.01" r="2.45" fill="#3f8bd0" stroke="#000" stroke-width="0.85"/>
<circle cx="128" cy="435.81" r="2.45" fill="#3f8bd0" stroke="#000" stroke-width="0.85"/>
<circle cx="129.5" cy="429.35" r="2.45" fill="#3f8bd0" stroke="#000" stroke-width="0.85"/>
<circle cx="131" cy="424.99" r="2.45" fill="#3f8bd0" stroke="#000" stroke-width="0.85"/>
<circle cx="132.5" cy="419.41" r="2.45" fill="#3f8bd0" stroke="#000" stroke-width="0.85"/>
<circle cx="134" cy="413.51" r="2.45" fill="#3f8bd0" stroke="#000" stroke-width="0.85"/>
<circle cx="135.5" cy="405.01" r="2.45" fill="#3f8bd0" stroke="#000" stroke-width="0.85"/>
<circle cx="137" cy="397.96" r="2.45" fill="#3f8bd0" stroke="#000" stroke-width="0.85"/>
<circle cx="138.5" cy="389.53" r="2.45" fill="#3f8bd0" stroke="#000" stroke-width="0.85"/>
<circle cx="140" cy="378.2" r="2.45" fill="#3f8bd0" stroke="#000" stroke-width="0.85"/>
<circle cx="141.5" cy="370.22" r="2.45" fill="#3f8bd0" stroke="#000" stroke-width="0.85"/>
<circle cx="143" cy="360.36" r="2.45" fill="#3f8bd0" stroke="#000" stroke-width="0.85"/>
<circle cx="144.5" cy="355.42" r="2.45" fill="#3f8bd0" stroke="#000" stroke-width="0.85"/>
<circle cx="146" cy="351.43" r="2.45" fill="#3f8bd0" stroke="#000" stroke-width="0.85"/>
<circle cx="147.5" cy="339.45" r="2.45" fill="#3f8bd0" stroke="#000" stroke-width="0.85"/>
<circle cx="149" cy="344.23" r="2.45" fill="#3f8bd0" stroke="#000" stroke-width="0.85"/>
<circle cx="150.5" cy="348.47" r="2.45" fill="#3f8bd0" stroke="#000" stroke-width="0.85"/>
<circle cx="152" cy="352.67" r="2.45" fill="#3f8bd0" stroke="#000" stroke-width="0.85"/>
<circle cx="153.5" cy="358.41" r="2.45" fill="#3f8bd0" stroke="#000" stroke-width="0.85"/>
<circle cx="155" cy="364.93" r="2.45" fill="#3f8bd0" stroke="#000" stroke-width="0.85"/>
<circle cx="156.5" cy="370.54" r="2.45" fill="#3f8bd0" stroke="#000" stroke-width="0.85"/>
<circle cx="158" cy="383.8" r="2.45" fill="#3f8bd0" stroke="#000" stroke-width="0.85"/>
<circle cx="159.5" cy="391.87" r="2.45" fill="#3f8bd0" stroke="#000" stroke-width="0.85"/>
<circle cx="161" cy="399.02" r="2.45" fill="#3f8bd0" stroke="#000" stroke-width="0.85"/>
<circle cx="162.5" cy="406.55" r="2.45" fill="#3f8bd0" stroke="#000" stroke-width="0.85"/>
<circle cx="164" cy="413.75" r="2.45" fill="#3f8bd0" stroke="#000" stroke-width="0.85"/>
<circle cx="165.5" cy="419.98" r="2.45" fill="#3f8bd0" stroke="#000" stroke-width="0.85"/>
<circle cx="167" cy="425.61" r="2.45" fill="#3f8bd0" stroke="#000" stroke-width="0.85"/>
<circle cx="168.5" cy="432.33" r="2.45" fill="#3f8bd0" stroke="#000" stroke-width="0.85"/>
<circle cx="170" cy="437.54" r="2.45" fill="#3f8bd0" stroke="#000" stroke-width="0.85"/>
<circle cx="171.5" cy="440.7" r="2.45" fill="#3f8bd0" stroke="#000" stroke-width="0.85"/>
<circle cx="173" cy="443.92" r="2.45" fill="#3f8bd0" stroke="#000" stroke-width="0.85"/>
<circle cx="174.5" cy="449.4" r="2.45" fill="#3f8bd0" stroke="#000" stroke-width="0.85"/>
<circle cx="176" cy="452.31" r="2.45" fill="#3f8bd0" stroke="#000" stroke-width="0.85"/>
<circle cx="177.5" cy="456.51" r="2.45" fill="#3f8bd0" stroke="#000" stroke-width="0.85"/>
<circle cx="179" cy="458.74" r="2.45" fill="#3f8bd0" stroke="#000" stroke-width="0.85"/>
<circle cx="180.5" cy="462.51" r="2.45" fill="#3f8bd0" stroke="#000" stroke-width="0.85"/>
<circle cx="182" cy="465.77" r="2.45" fill="#3f8bd0" stroke="#000" stroke-width="0.85"/>
<circle cx="183.5" cy="468.17" r="2.45" fill="#3f8bd0" stroke="#000" stroke-width="0.85"/>
<circle cx="185" cy="472.06" r="2.45" fill="#3f8bd0" stroke="#000" stroke-width="0.85"/>
<circle cx="186.5" cy="473.85" r="2.45" fill="#3f8bd0" stroke="#000" stroke-width="0.85"/>
<circle cx="188" cy="476.05" r="2.45" fill="#3f8bd0" stroke="#000" stroke-width="0.85"/>
<circle cx="189.5" cy="479.27" r="2.45" fill="#3f8bd0" stroke="#000" stroke-width="0.85"/>
<circle cx="191" cy="480.62" r="2.45" fill="#3f8bd0" stroke="#000" stroke-width="0.85"/>
<circle cx="192.5" cy="483.01" r="2.45" fill="#3f8bd0" stroke="#000" stroke-width="0.85"/>
<circle cx="194" cy="485.33" r="2.45" fill="#3f8bd0" stroke="#000" stroke-width="0.85"/>
<circle cx="195.5" cy="487.47" r="2.45" fill="#3f8bd0" stroke="#000" stroke-width="0.85"/>
<circle cx="197" cy="488.41" r="2.45" fill="#3f8bd0" stroke="#000" stroke-width="0.85"/>
<circle cx="198.5" cy="489.82" r="2.45" fill="#3f8bd0" stroke="#000" stroke-width="0.85"/>
<circle cx="200" cy="492.64" r="2.45" fill="#3f8bd0" stroke="#000" stroke-width="0.85"/>
<circle cx="201.5" cy="493.15" r="2.45" fill="#3f8bd0" stroke="#000" stroke-width="0.85"/>
<circle cx="203" cy="495.43" r="2.45" fill="#3f8bd0" stroke="#000" stroke-width="0.85"/>
<circle cx="204.5" cy="496.41" r="2.45" fill="#3f8bd0" stroke="#000" stroke-width="0.85"/>
<circle cx="206" cy="496.51" r="2.45" fill="#3f8bd0" stroke="#000" stroke-width="0.85"/>
<circle cx="207.5" cy="497.49" r="2.45" fill="#3f8bd0" stroke="#000" stroke-width="0.85"/>
<circle cx="209" cy="498.38" r="2.45" fill="#3f8bd0" stroke="#000" stroke-width="0.85"/>
<circle cx="210.5" cy="499.32" r="2.45" fill="#3f8bd0" stroke="#000" stroke-width="0.85"/>
<circle cx="212" cy="499.94" r="2.45" fill="#3f8bd0" stroke="#000" stroke-width="0.85"/>
<circle cx="213.5" cy="500.54" r="2.45" fill="#3f8bd0" stroke="#000" stroke-width="0.85"/>
<circle cx="215" cy="501.25" r="2.45" fill="#3f8bd0" stroke="#000" stroke-width="0.85"/>
<circle cx="216.5" cy="502.36" r="2.45" fill="#3f8bd0" stroke="#000" stroke-width="0.85"/>
<circle cx="218" cy="502.24" r="2.45" fill="#3f8bd0" stroke="#000" stroke-width="0.85"/>
<circle cx="219.5" cy="502.67" r="2.45" fill="#3f8bd0" stroke="#000" stroke-width="0.85"/>
<circle cx="221" cy="503.68" r="2.45" fill="#3f8bd0" stroke="#000" stroke-width="0.85"/>
<circle cx="222.5" cy="503.44" r="2.45" fill="#3f8bd0" stroke="#000" stroke-width="0.85"/>
<circle cx="224" cy="504.08" r="2.45" fill="#3f8bd0" stroke="#000" stroke-width="0.85"/>
<circle cx="225.5" cy="505.69" r="2.45" fill="#3f8bd0" stroke="#000" stroke-width="0.85"/>
<circle cx="227" cy="505.47" r="2.45" fill="#3f8bd0" stroke="#000" stroke-width="0.85"/>
<circle cx="228.5" cy="506" r="2.45" fill="#3f8bd0" stroke="#000" stroke-width="0.85"/>
<circle cx="230" cy="505.63" r="2.45" fill="#3f8bd0" stroke="#000" stroke-width="0.85"/>
<circle cx="231.5" cy="506.74" r="2.45" fill="#3f8bd0" stroke="#000" stroke-width="0.85"/>
<circle cx="233" cy="507.45" r="2.45" fill="#3f8bd0" stroke="#000" stroke-width="0.85"/>
<circle cx="234.5" cy="506.99" r="2.45" fill="#3f8bd0" stroke="#000" stroke-width="0.85"/>
<circle cx="236" cy="508.36" r="2.45" fill="#3f8bd0" stroke="#000" stroke-width="0.85"/>
<circle cx="237.5" cy="508.78" r="2.45" fill="#3f8bd0" stroke="#000" stroke-width="0.85"/>
<circle cx="239" cy="508.25" r="2.45" fill="#3f8bd0" stroke="#000" stroke-width="0.85"/>
<circle cx="240.5" cy="509.52" r="2.45" fill="#3f8bd0" stroke="#000" stroke-width="0.85"/>
<circle cx="242" cy="509.61" r="2.45" fill="#3f8bd0" stroke="#000" stroke-width="0.85"/>
<circle cx="243.5" cy="510.28" r="2.45" fill="#3f8bd0" stroke="#000" stroke-width="0.85"/>
<circle cx="245" cy="510.07" r="2.45" fill="#3f8bd0" stroke="#000" stroke-width="0.85"/>
<circle cx="246.5" cy="510.93" r="2.45" fill="#3f8bd0" stroke="#000" stroke-width="0.85"/>
<circle cx="248" cy="511.27" r="2.45" fill="#3f8bd0" stroke="#000" stroke-width="0.85"/>
<circle cx="249.5" cy="510.41" r="2.45" fill="#3f8bd0" stroke="#000" stroke-width="0.85"/>
<circle cx="251" cy="510.75" r="2.45" fill="#3f8bd0" stroke="#000" stroke-width="0.85"/>
<circle cx="252.5" cy="512.01" r="2.45" fill="#3f8bd0" stroke="#000" stroke-width="0.85"/>
<circle cx="254" cy="512.75" r="2.45" fill="#3f8bd0" stroke="#000" stroke-width="0.85"/>
<circle cx="255.5" cy="511.89" r="2.45" fill="#3f8bd0" stroke="#000" stroke-width="0.85"/>
<circle cx="257" cy="512.51" r="2.45" fill="#3f8bd0" stroke="#000" stroke-width="0.85"/>
<circle cx="258.5" cy="513.03" r="2.45" fill="#3f8bd0" stroke="#000" stroke-width="0.85"/>
<circle cx="260" cy="512.91" r="2.45" fill="#3f8bd0" stroke="#000" stroke-width="0.85"/>
<circle cx="261.5" cy="513.31" r="2.45" fill="#3f8bd0" stroke="#000" stroke-width="0.85"/>
<circle cx="263" cy="513.57" r="2.45" fill="#3f8bd0" stroke="#000" stroke-width="0.85"/>
<circle cx="264.5" cy="514" r="2.45" fill="#3f8bd0" stroke="#000" stroke-width="0.85"/>
<circle cx="266" cy="514.69" r="2.45" fill="#3f8bd0" stroke="#000" stroke-width="0.85"/>
<circle cx="267.5" cy="514.55" r="2.45" fill="#3f8bd0" stroke="#000" stroke-width="0.85"/>
<circle cx="269" cy="514.98" r="2.45" fill="#3f8bd0" stroke="#000" stroke-width="0.85"/>
<circle cx="270.5" cy="515.91" r="2.45" fill="#3f8bd0" stroke="#000" stroke-width="0.85"/>
<circle cx="272" cy="514.99" r="2.45" fill="#3f8bd0" stroke="#000" stroke-width="0.85"/>
<circle cx="273.5" cy="516.09" r="2.45" fill="#3f8bd0" stroke="#000" stroke-width="0.85"/>
<circle cx="275" cy="516.56" r="2.45" fill="#3f8bd0" stroke="#000" stroke-width="0.85"/>
<circle cx="276.5" cy="516.06" r="2.45" fill="#3f8bd0" stroke="#000" stroke-width="0.85"/>
<circle cx="278" cy="516.09" r="2.45" fill="#3f8bd0" stroke="#000" stroke-width="0.85"/>
<circle cx="279.5" cy="517.18" r="2.45" fill="#3f8bd0" stroke="#000" stroke-width="0.85"/>
<circle cx="281" cy="516.41" r="2.45" fill="#3f8bd0" stroke="#000" stroke-width="0.85"/>
<circle cx="282.5" cy="516.45" r="2.45" fill="#3f8bd0" stroke="#000" stroke-width="0.85"/>
<circle cx="284" cy="516.95" r="2.45" fill="#3f8bd0" stroke="#000" stroke-width="0.85"/>
<circle cx="285.5" cy="517.45" r="2.45" fill="#3f8bd0" stroke="#000" stroke-width="0.85"/>
<circle cx="60.5" cy="497.16" r="2.45" fill="#e8202a" stroke="#000" stroke-width="0.85"/>
<circle cx="62" cy="497.13" r="2.45" fill="#e8202a" stroke="#000" stroke-width="0.85"/>
<circle cx="63.5" cy="496.52" r="2.45" fill="#e8202a" stroke="#000" stroke-width="0.85"/>
<circle cx="65" cy="496.46" r="2.45" fill="#e8202a" stroke="#000" stroke-width="0.85"/>
<circle cx="66.5" cy="494.75" r="2.45" fill="#e8202a" stroke="#000" stroke-width="0.85"/>
<circle cx="68" cy="494.15" r="2.45" fill="#e8202a" stroke="#000" stroke-width="0.85"/>
<circle cx="69.5" cy="491.62" r="2.45" fill="#e8202a" stroke="#000" stroke-width="0.85"/>
<circle cx="71" cy="490.29" r="2.45" fill="#e8202a" stroke="#000" stroke-width="0.85"/>
<circle cx="72.5" cy="489.07" r="2.45" fill="#e8202a" stroke="#000" stroke-width="0.85"/>
<circle cx="74" cy="487.6" r="2.45" fill="#e8202a" stroke="#000" stroke-width="0.85"/>
<circle cx="75.5" cy="484.98" r="2.45" fill="#e8202a" stroke="#000" stroke-width="0.85"/>
<circle cx="77" cy="482.61" r="2.45" fill="#e8202a" stroke="#000" stroke-width="0.85"/>
<circle cx="78.5" cy="480.37" r="2.45" fill="#e8202a" stroke="#000" stroke-width="0.85"/>
<circle cx="80" cy="478.93" r="2.45" fill="#e8202a" stroke="#000" stroke-width="0.85"/>
<circle cx="81.5" cy="476.1" r="2.45" fill="#e8202a" stroke="#000" stroke-width="0.85"/>
<circle cx="83" cy="474.37" r="2.45" fill="#e8202a" stroke="#000" stroke-width="0.85"/>
<circle cx="84.5" cy="471.34" r="2.45" fill="#e8202a" stroke="#000" stroke-width="0.85"/>
<circle cx="86" cy="466.89" r="2.45" fill="#e8202a" stroke="#000" stroke-width="0.85"/>
<circle cx="87.5" cy="463.38" r="2.45" fill="#e8202a" stroke="#000" stroke-width="0.85"/>
<circle cx="89" cy="460.36" r="2.45" fill="#e8202a" stroke="#000" stroke-width="0.85"/>
<circle cx="90.5" cy="456.08" r="2.45" fill="#e8202a" stroke="#000" stroke-width="0.85"/>
<circle cx="92" cy="451.97" r="2.45" fill="#e8202a" stroke="#000" stroke-width="0.85"/>
<circle cx="93.5" cy="446.41" r="2.45" fill="#e8202a" stroke="#000" stroke-width="0.85"/>
<circle cx="95" cy="440.87" r="2.45" fill="#e8202a" stroke="#000" stroke-width="0.85"/>
<circle cx="96.5" cy="435.63" r="2.45" fill="#e8202a" stroke="#000" stroke-width="0.85"/>
<circle cx="98" cy="430.72" r="2.45" fill="#e8202a" stroke="#000" stroke-width="0.85"/>
<circle cx="99.5" cy="424.03" r="2.45" fill="#e8202a" stroke="#000" stroke-width="0.85"/>
<circle cx="101" cy="417.9" r="2.45" fill="#e8202a" stroke="#000" stroke-width="0.85"/>
<circle cx="102.5" cy="409.54" r="2.45" fill="#e8202a" stroke="#000" stroke-width="0.85"/>
<circle cx="104" cy="401.43" r="2.45" fill="#e8202a" stroke="#000" stroke-width="0.85"/>
<circle cx="105.5" cy="392.76" r="2.45" fill="#e8202a" stroke="#000" stroke-width="0.85"/>
<circle cx="107" cy="387.46" r="2.45" fill="#e8202a" stroke="#000" stroke-width="0.85"/>
<circle cx="108.5" cy="373.94" r="2.45" fill="#e8202a" stroke="#000" stroke-width="0.85"/>
<circle cx="110" cy="360.14" r="2.45" fill="#e8202a" stroke="#000" stroke-width="0.85"/>
<circle cx="111.5" cy="353.71" r="2.45" fill="#e8202a" stroke="#000" stroke-width="0.85"/>
<circle cx="113" cy="343.97" r="2.45" fill="#e8202a" stroke="#000" stroke-width="0.85"/>
<circle cx="114.5" cy="339.08" r="2.45" fill="#e8202a" stroke="#000" stroke-width="0.85"/>
<circle cx="116" cy="337.61" r="2.45" fill="#e8202a" stroke="#000" stroke-width="0.85"/>
<circle cx="117.5" cy="339.19" r="2.45" fill="#e8202a" stroke="#000" stroke-width="0.85"/>
<circle cx="119" cy="342.22" r="2.45" fill="#e8202a" stroke="#000" stroke-width="0.85"/>
<circle cx="120.5" cy="348.01" r="2.45" fill="#e8202a" stroke="#000" stroke-width="0.85"/>
<circle cx="122" cy="356.92" r="2.45" fill="#e8202a" stroke="#000" stroke-width="0.85"/>
<circle cx="123.5" cy="367.44" r="2.45" fill="#e8202a" stroke="#000" stroke-width="0.85"/>
<circle cx="125" cy="378.56" r="2.45" fill="#e8202a" stroke="#000" stroke-width="0.85"/>
<circle cx="126.5" cy="388.13" r="2.45" fill="#e8202a" stroke="#000" stroke-width="0.85"/>
<circle cx="128" cy="395.84" r="2.45" fill="#e8202a" stroke="#000" stroke-width="0.85"/>
<circle cx="129.5" cy="404.97" r="2.45" fill="#e8202a" stroke="#000" stroke-width="0.85"/>
<circle cx="131" cy="412.67" r="2.45" fill="#e8202a" stroke="#000" stroke-width="0.85"/>
<circle cx="132.5" cy="421.96" r="2.45" fill="#e8202a" stroke="#000" stroke-width="0.85"/>
<circle cx="134" cy="430.13" r="2.45" fill="#e8202a" stroke="#000" stroke-width="0.85"/>
<circle cx="135.5" cy="435.14" r="2.45" fill="#e8202a" stroke="#000" stroke-width="0.85"/>
<circle cx="137" cy="440.84" r="2.45" fill="#e8202a" stroke="#000" stroke-width="0.85"/>
<circle cx="138.5" cy="443.95" r="2.45" fill="#e8202a" stroke="#000" stroke-width="0.85"/>
<circle cx="140" cy="449.22" r="2.45" fill="#e8202a" stroke="#000" stroke-width="0.85"/>
<circle cx="141.5" cy="452.43" r="2.45" fill="#e8202a" stroke="#000" stroke-width="0.85"/>
<circle cx="143" cy="456.09" r="2.45" fill="#e8202a" stroke="#000" stroke-width="0.85"/>
<circle cx="144.5" cy="459.16" r="2.45" fill="#e8202a" stroke="#000" stroke-width="0.85"/>
<circle cx="146" cy="462.21" r="2.45" fill="#e8202a" stroke="#000" stroke-width="0.85"/>
<circle cx="147.5" cy="464.74" r="2.45" fill="#e8202a" stroke="#000" stroke-width="0.85"/>
<circle cx="149" cy="466.79" r="2.45" fill="#e8202a" stroke="#000" stroke-width="0.85"/>
<circle cx="150.5" cy="470.79" r="2.45" fill="#e8202a" stroke="#000" stroke-width="0.85"/>
<circle cx="152" cy="472.58" r="2.45" fill="#e8202a" stroke="#000" stroke-width="0.85"/>
<circle cx="153.5" cy="475.37" r="2.45" fill="#e8202a" stroke="#000" stroke-width="0.85"/>
<circle cx="155" cy="478.41" r="2.45" fill="#e8202a" stroke="#000" stroke-width="0.85"/>
<circle cx="156.5" cy="480.52" r="2.45" fill="#e8202a" stroke="#000" stroke-width="0.85"/>
<circle cx="158" cy="482.55" r="2.45" fill="#e8202a" stroke="#000" stroke-width="0.85"/>
<circle cx="159.5" cy="485.46" r="2.45" fill="#e8202a" stroke="#000" stroke-width="0.85"/>
<circle cx="161" cy="486.88" r="2.45" fill="#e8202a" stroke="#000" stroke-width="0.85"/>
<circle cx="162.5" cy="488.27" r="2.45" fill="#e8202a" stroke="#000" stroke-width="0.85"/>
<circle cx="164" cy="489.83" r="2.45" fill="#e8202a" stroke="#000" stroke-width="0.85"/>
<circle cx="165.5" cy="492.41" r="2.45" fill="#e8202a" stroke="#000" stroke-width="0.85"/>
<circle cx="167" cy="493.29" r="2.45" fill="#e8202a" stroke="#000" stroke-width="0.85"/>
<circle cx="168.5" cy="495.17" r="2.45" fill="#e8202a" stroke="#000" stroke-width="0.85"/>
<circle cx="170" cy="495.76" r="2.45" fill="#e8202a" stroke="#000" stroke-width="0.85"/>
<circle cx="171.5" cy="496.71" r="2.45" fill="#e8202a" stroke="#000" stroke-width="0.85"/>
<circle cx="173" cy="498.37" r="2.45" fill="#e8202a" stroke="#000" stroke-width="0.85"/>
<circle cx="174.5" cy="499.88" r="2.45" fill="#e8202a" stroke="#000" stroke-width="0.85"/>
<circle cx="176" cy="499.84" r="2.45" fill="#e8202a" stroke="#000" stroke-width="0.85"/>
<circle cx="177.5" cy="501.78" r="2.45" fill="#e8202a" stroke="#000" stroke-width="0.85"/>
<circle cx="179" cy="502.89" r="2.45" fill="#e8202a" stroke="#000" stroke-width="0.85"/>
<circle cx="180.5" cy="503.57" r="2.45" fill="#e8202a" stroke="#000" stroke-width="0.85"/>
<circle cx="182" cy="504.41" r="2.45" fill="#e8202a" stroke="#000" stroke-width="0.85"/>
<circle cx="183.5" cy="503.86" r="2.45" fill="#e8202a" stroke="#000" stroke-width="0.85"/>
<circle cx="185" cy="505.58" r="2.45" fill="#e8202a" stroke="#000" stroke-width="0.85"/>
<circle cx="186.5" cy="506.68" r="2.45" fill="#e8202a" stroke="#000" stroke-width="0.85"/>
<circle cx="188" cy="506.13" r="2.45" fill="#e8202a" stroke="#000" stroke-width="0.85"/>
<circle cx="189.5" cy="507.28" r="2.45" fill="#e8202a" stroke="#000" stroke-width="0.85"/>
<circle cx="191" cy="508.1" r="2.45" fill="#e8202a" stroke="#000" stroke-width="0.85"/>
<circle cx="192.5" cy="509.36" r="2.45" fill="#e8202a" stroke="#000" stroke-width="0.85"/>
<circle cx="194" cy="510.05" r="2.45" fill="#e8202a" stroke="#000" stroke-width="0.85"/>
<circle cx="195.5" cy="510.97" r="2.45" fill="#e8202a" stroke="#000" stroke-width="0.85"/>
<circle cx="197" cy="512.28" r="2.45" fill="#e8202a" stroke="#000" stroke-width="0.85"/>
<circle cx="198.5" cy="511.83" r="2.45" fill="#e8202a" stroke="#000" stroke-width="0.85"/>
<circle cx="200" cy="512.65" r="2.45" fill="#e8202a" stroke="#000" stroke-width="0.85"/>
<circle cx="201.5" cy="513.44" r="2.45" fill="#e8202a" stroke="#000" stroke-width="0.85"/>
<circle cx="203" cy="514.04" r="2.45" fill="#e8202a" stroke="#000" stroke-width="0.85"/>
<circle cx="204.5" cy="514.46" r="2.45" fill="#e8202a" stroke="#000" stroke-width="0.85"/>
<circle cx="206" cy="516.34" r="2.45" fill="#e8202a" stroke="#000" stroke-width="0.85"/>
<circle cx="207.5" cy="516.53" r="2.45" fill="#e8202a" stroke="#000" stroke-width="0.85"/>
<circle cx="209" cy="515.65" r="2.45" fill="#e8202a" stroke="#000" stroke-width="0.85"/>
<circle cx="210.5" cy="516.65" r="2.45" fill="#e8202a" stroke="#000" stroke-width="0.85"/>
<circle cx="212" cy="516.66" r="2.45" fill="#e8202a" stroke="#000" stroke-width="0.85"/>
<circle cx="213.5" cy="516.94" r="2.45" fill="#e8202a" stroke="#000" stroke-width="0.85"/>
<circle cx="215" cy="517.27" r="2.45" fill="#e8202a" stroke="#000" stroke-width="0.85"/>
<circle cx="216.5" cy="518" r="2.45" fill="#e8202a" stroke="#000" stroke-width="0.85"/>
<circle cx="218" cy="518.16" r="2.45" fill="#e8202a" stroke="#000" stroke-width="0.85"/>
<circle cx="219.5" cy="518.05" r="2.45" fill="#e8202a" stroke="#000" stroke-width="0.85"/>
<circle cx="221" cy="518.03" r="2.45" fill="#e8202a" stroke="#000" stroke-width="0.85"/>
<circle cx="222.5" cy="518.51" r="2.45" fill="#e8202a" stroke="#000" stroke-width="0.85"/>
<circle cx="224" cy="518.44" r="2.45" fill="#e8202a" stroke="#000" stroke-width="0.85"/>
<circle cx="225.5" cy="519.38" r="2.45" fill="#e8202a" stroke="#000" stroke-width="0.85"/>
<circle cx="227" cy="519.88" r="2.45" fill="#e8202a" stroke="#000" stroke-width="0.85"/>
<circle cx="228.5" cy="519.58" r="2.45" fill="#e8202a" stroke="#000" stroke-width="0.85"/>
<circle cx="230" cy="519.33" r="2.45" fill="#e8202a" stroke="#000" stroke-width="0.85"/>
<circle cx="231.5" cy="519.72" r="2.45" fill="#e8202a" stroke="#000" stroke-width="0.85"/>
<circle cx="233" cy="520.25" r="2.45" fill="#e8202a" stroke="#000" stroke-width="0.85"/>
<circle cx="234.5" cy="520.85" r="2.45" fill="#e8202a" stroke="#000" stroke-width="0.85"/>
<circle cx="236" cy="521.35" r="2.45" fill="#e8202a" stroke="#000" stroke-width="0.85"/>
<circle cx="237.5" cy="520.93" r="2.45" fill="#e8202a" stroke="#000" stroke-width="0.85"/>
<circle cx="239" cy="521.83" r="2.45" fill="#e8202a" stroke="#000" stroke-width="0.85"/>
<circle cx="240.5" cy="521.77" r="2.45" fill="#e8202a" stroke="#000" stroke-width="0.85"/>
<circle cx="242" cy="521.7" r="2.45" fill="#e8202a" stroke="#000" stroke-width="0.85"/>
<circle cx="243.5" cy="521.84" r="2.45" fill="#e8202a" stroke="#000" stroke-width="0.85"/>
<circle cx="245" cy="522.27" r="2.45" fill="#e8202a" stroke="#000" stroke-width="0.85"/>
<circle cx="246.5" cy="522.84" r="2.45" fill="#e8202a" stroke="#000" stroke-width="0.85"/>
<circle cx="248" cy="522.62" r="2.45" fill="#e8202a" stroke="#000" stroke-width="0.85"/>
<circle cx="249.5" cy="523.29" r="2.45" fill="#e8202a" stroke="#000" stroke-width="0.85"/>
<circle cx="251" cy="523.15" r="2.45" fill="#e8202a" stroke="#000" stroke-width="0.85"/>
<circle cx="252.5" cy="523.02" r="2.45" fill="#e8202a" stroke="#000" stroke-width="0.85"/>
<circle cx="254" cy="523.7" r="2.45" fill="#e8202a" stroke="#000" stroke-width="0.85"/>
<circle cx="255.5" cy="524.15" r="2.45" fill="#e8202a" stroke="#000" stroke-width="0.85"/>
<circle cx="257" cy="523.34" r="2.45" fill="#e8202a" stroke="#000" stroke-width="0.85"/>
<circle cx="258.5" cy="524.08" r="2.45" fill="#e8202a" stroke="#000" stroke-width="0.85"/>
<circle cx="260" cy="524.25" r="2.45" fill="#e8202a" stroke="#000" stroke-width="0.85"/>
<circle cx="261.5" cy="525.14" r="2.45" fill="#e8202a" stroke="#000" stroke-width="0.85"/>
<circle cx="263" cy="525.38" r="2.45" fill="#e8202a" stroke="#000" stroke-width="0.85"/>
<circle cx="264.5" cy="524.62" r="2.45" fill="#e8202a" stroke="#000" stroke-width="0.85"/>
<circle cx="266" cy="525.6" r="2.45" fill="#e8202a" stroke="#000" stroke-width="0.85"/>
<circle cx="267.5" cy="525.57" r="2.45" fill="#e8202a" stroke="#000" stroke-width="0.85"/>
<circle cx="269" cy="524.86" r="2.45" fill="#e8202a" stroke="#000" stroke-width="0.85"/>
<circle cx="270.5" cy="525.32" r="2.45" fill="#e8202a" stroke="#000" stroke-width="0.85"/>
<circle cx="272" cy="524.91" r="2.45" fill="#e8202a" stroke="#000" stroke-width="0.85"/>
<circle cx="273.5" cy="526.15" r="2.45" fill="#e8202a" stroke="#000" stroke-width="0.85"/>
<circle cx="275" cy="526.05" r="2.45" fill="#e8202a" stroke="#000" stroke-width="0.85"/>
<circle cx="276.5" cy="526.55" r="2.45" fill="#e8202a" stroke="#000" stroke-width="0.85"/>
<circle cx="278" cy="526.54" r="2.45" fill="#e8202a" stroke="#000" stroke-width="0.85"/>
<circle cx="279.5" cy="526.48" r="2.45" fill="#e8202a" stroke="#000" stroke-width="0.85"/>
<circle cx="281" cy="526.73" r="2.45" fill="#e8202a" stroke="#000" stroke-width="0.85"/>
<circle cx="282.5" cy="526.59" r="2.45" fill="#e8202a" stroke="#000" stroke-width="0.85"/>
<circle cx="284" cy="525.99" r="2.45" fill="#e8202a" stroke="#000" stroke-width="0.85"/>
<circle cx="285.5" cy="526.9" r="2.45" fill="#e8202a" stroke="#000" stroke-width="0.85"/>
</g>
<line x1="60.5" y1="325" x2="60.5" y2="542.5" stroke="#dc1e1e" stroke-width="1.6" />
<line x1="450.3" y1="547.1" x2="450.3" y2="542.6" stroke="#000" stroke-width="1.0" />
<line x1="450.3" y1="320.5" x2="450.3" y2="325" stroke="#000" stroke-width="1.0" />
<line x1="460.38" y1="547.1" x2="460.38" y2="544.8" stroke="#000" stroke-width="1.0" />
<line x1="460.38" y1="320.5" x2="460.38" y2="322.8" stroke="#000" stroke-width="1.0" />
<line x1="470.45" y1="547.1" x2="470.45" y2="544.8" stroke="#000" stroke-width="1.0" />
<line x1="470.45" y1="320.5" x2="470.45" y2="322.8" stroke="#000" stroke-width="1.0" />
<line x1="480.53" y1="547.1" x2="480.53" y2="544.8" stroke="#000" stroke-width="1.0" />
<line x1="480.53" y1="320.5" x2="480.53" y2="322.8" stroke="#000" stroke-width="1.0" />
<line x1="490.6" y1="547.1" x2="490.6" y2="542.6" stroke="#000" stroke-width="1.0" />
<line x1="490.6" y1="320.5" x2="490.6" y2="325" stroke="#000" stroke-width="1.0" />
<line x1="500.68" y1="547.1" x2="500.68" y2="544.8" stroke="#000" stroke-width="1.0" />
<line x1="500.68" y1="320.5" x2="500.68" y2="322.8" stroke="#000" stroke-width="1.0" />
<line x1="510.75" y1="547.1" x2="510.75" y2="544.8" stroke="#000" stroke-width="1.0" />
<line x1="510.75" y1="320.5" x2="510.75" y2="322.8" stroke="#000" stroke-width="1.0" />
<line x1="520.83" y1="547.1" x2="520.83" y2="544.8" stroke="#000" stroke-width="1.0" />
<line x1="520.83" y1="320.5" x2="520.83" y2="322.8" stroke="#000" stroke-width="1.0" />
<line x1="530.9" y1="547.1" x2="530.9" y2="542.6" stroke="#000" stroke-width="1.0" />
<line x1="530.9" y1="320.5" x2="530.9" y2="325" stroke="#000" stroke-width="1.0" />
<line x1="540.98" y1="547.1" x2="540.98" y2="544.8" stroke="#000" stroke-width="1.0" />
<line x1="540.98" y1="320.5" x2="540.98" y2="322.8" stroke="#000" stroke-width="1.0" />
<line x1="551.05" y1="547.1" x2="551.05" y2="544.8" stroke="#000" stroke-width="1.0" />
<line x1="551.05" y1="320.5" x2="551.05" y2="322.8" stroke="#000" stroke-width="1.0" />
<line x1="561.12" y1="547.1" x2="561.12" y2="544.8" stroke="#000" stroke-width="1.0" />
<line x1="561.12" y1="320.5" x2="561.12" y2="322.8" stroke="#000" stroke-width="1.0" />
<line x1="571.2" y1="547.1" x2="571.2" y2="542.6" stroke="#000" stroke-width="1.0" />
<line x1="571.2" y1="320.5" x2="571.2" y2="325" stroke="#000" stroke-width="1.0" />
<line x1="581.27" y1="547.1" x2="581.27" y2="544.8" stroke="#000" stroke-width="1.0" />
<line x1="581.27" y1="320.5" x2="581.27" y2="322.8" stroke="#000" stroke-width="1.0" />
<line x1="591.35" y1="547.1" x2="591.35" y2="544.8" stroke="#000" stroke-width="1.0" />
<line x1="591.35" y1="320.5" x2="591.35" y2="322.8" stroke="#000" stroke-width="1.0" />
<line x1="601.42" y1="547.1" x2="601.42" y2="544.8" stroke="#000" stroke-width="1.0" />
<line x1="601.42" y1="320.5" x2="601.42" y2="322.8" stroke="#000" stroke-width="1.0" />
<line x1="611.5" y1="547.1" x2="611.5" y2="542.6" stroke="#000" stroke-width="1.0" />
<line x1="611.5" y1="320.5" x2="611.5" y2="325" stroke="#000" stroke-width="1.0" />
<line x1="621.58" y1="547.1" x2="621.58" y2="544.8" stroke="#000" stroke-width="1.0" />
<line x1="621.58" y1="320.5" x2="621.58" y2="322.8" stroke="#000" stroke-width="1.0" />
<line x1="631.65" y1="547.1" x2="631.65" y2="544.8" stroke="#000" stroke-width="1.0" />
<line x1="631.65" y1="320.5" x2="631.65" y2="322.8" stroke="#000" stroke-width="1.0" />
<line x1="641.73" y1="547.1" x2="641.73" y2="544.8" stroke="#000" stroke-width="1.0" />
<line x1="641.73" y1="320.5" x2="641.73" y2="322.8" stroke="#000" stroke-width="1.0" />
<line x1="651.8" y1="547.1" x2="651.8" y2="542.6" stroke="#000" stroke-width="1.0" />
<line x1="651.8" y1="320.5" x2="651.8" y2="325" stroke="#000" stroke-width="1.0" />
<line x1="440.2" y1="542.23" x2="442.5" y2="542.23" stroke="#000" stroke-width="1.0" />
<line x1="661.8" y1="542.23" x2="659.5" y2="542.23" stroke="#000" stroke-width="1.0" />
<line x1="440.2" y1="532.8" x2="444.7" y2="532.8" stroke="#000" stroke-width="1.0" />
<line x1="661.8" y1="532.8" x2="657.3" y2="532.8" stroke="#000" stroke-width="1.0" />
<line x1="440.2" y1="523.37" x2="442.5" y2="523.37" stroke="#000" stroke-width="1.0" />
<line x1="661.8" y1="523.37" x2="659.5" y2="523.37" stroke="#000" stroke-width="1.0" />
<line x1="440.2" y1="513.93" x2="442.5" y2="513.93" stroke="#000" stroke-width="1.0" />
<line x1="661.8" y1="513.93" x2="659.5" y2="513.93" stroke="#000" stroke-width="1.0" />
<line x1="440.2" y1="504.49" x2="442.5" y2="504.49" stroke="#000" stroke-width="1.0" />
<line x1="661.8" y1="504.49" x2="659.5" y2="504.49" stroke="#000" stroke-width="1.0" />
<line x1="440.2" y1="495.06" x2="442.5" y2="495.06" stroke="#000" stroke-width="1.0" />
<line x1="661.8" y1="495.06" x2="659.5" y2="495.06" stroke="#000" stroke-width="1.0" />
<line x1="440.2" y1="485.62" x2="444.7" y2="485.62" stroke="#000" stroke-width="1.0" />
<line x1="661.8" y1="485.62" x2="657.3" y2="485.62" stroke="#000" stroke-width="1.0" />
<line x1="440.2" y1="476.19" x2="442.5" y2="476.19" stroke="#000" stroke-width="1.0" />
<line x1="661.8" y1="476.19" x2="659.5" y2="476.19" stroke="#000" stroke-width="1.0" />
<line x1="440.2" y1="466.75" x2="442.5" y2="466.75" stroke="#000" stroke-width="1.0" />
<line x1="661.8" y1="466.75" x2="659.5" y2="466.75" stroke="#000" stroke-width="1.0" />
<line x1="440.2" y1="457.32" x2="442.5" y2="457.32" stroke="#000" stroke-width="1.0" />
<line x1="661.8" y1="457.32" x2="659.5" y2="457.32" stroke="#000" stroke-width="1.0" />
<line x1="440.2" y1="447.88" x2="442.5" y2="447.88" stroke="#000" stroke-width="1.0" />
<line x1="661.8" y1="447.88" x2="659.5" y2="447.88" stroke="#000" stroke-width="1.0" />
<line x1="440.2" y1="438.45" x2="444.7" y2="438.45" stroke="#000" stroke-width="1.0" />
<line x1="661.8" y1="438.45" x2="657.3" y2="438.45" stroke="#000" stroke-width="1.0" />
<line x1="440.2" y1="429.01" x2="442.5" y2="429.01" stroke="#000" stroke-width="1.0" />
<line x1="661.8" y1="429.01" x2="659.5" y2="429.01" stroke="#000" stroke-width="1.0" />
<line x1="440.2" y1="419.58" x2="442.5" y2="419.58" stroke="#000" stroke-width="1.0" />
<line x1="661.8" y1="419.58" x2="659.5" y2="419.58" stroke="#000" stroke-width="1.0" />
<line x1="440.2" y1="410.14" x2="442.5" y2="410.14" stroke="#000" stroke-width="1.0" />
<line x1="661.8" y1="410.14" x2="659.5" y2="410.14" stroke="#000" stroke-width="1.0" />
<line x1="440.2" y1="400.71" x2="442.5" y2="400.71" stroke="#000" stroke-width="1.0" />
<line x1="661.8" y1="400.71" x2="659.5" y2="400.71" stroke="#000" stroke-width="1.0" />
<line x1="440.2" y1="391.27" x2="444.7" y2="391.27" stroke="#000" stroke-width="1.0" />
<line x1="661.8" y1="391.27" x2="657.3" y2="391.27" stroke="#000" stroke-width="1.0" />
<line x1="440.2" y1="381.84" x2="442.5" y2="381.84" stroke="#000" stroke-width="1.0" />
<line x1="661.8" y1="381.84" x2="659.5" y2="381.84" stroke="#000" stroke-width="1.0" />
<line x1="440.2" y1="372.4" x2="442.5" y2="372.4" stroke="#000" stroke-width="1.0" />
<line x1="661.8" y1="372.4" x2="659.5" y2="372.4" stroke="#000" stroke-width="1.0" />
<line x1="440.2" y1="362.97" x2="442.5" y2="362.97" stroke="#000" stroke-width="1.0" />
<line x1="661.8" y1="362.97" x2="659.5" y2="362.97" stroke="#000" stroke-width="1.0" />
<line x1="440.2" y1="353.53" x2="442.5" y2="353.53" stroke="#000" stroke-width="1.0" />
<line x1="661.8" y1="353.53" x2="659.5" y2="353.53" stroke="#000" stroke-width="1.0" />
<line x1="440.2" y1="344.1" x2="444.7" y2="344.1" stroke="#000" stroke-width="1.0" />
<line x1="661.8" y1="344.1" x2="657.3" y2="344.1" stroke="#000" stroke-width="1.0" />
<line x1="440.2" y1="334.66" x2="442.5" y2="334.66" stroke="#000" stroke-width="1.0" />
<line x1="661.8" y1="334.66" x2="659.5" y2="334.66" stroke="#000" stroke-width="1.0" />
<line x1="440.2" y1="325.23" x2="442.5" y2="325.23" stroke="#000" stroke-width="1.0" />
<line x1="661.8" y1="325.23" x2="659.5" y2="325.23" stroke="#000" stroke-width="1.0" />
<rect x="440.2" y="320.5" width="221.59999999999997" height="226.60000000000002" fill="none" stroke="#222" stroke-width="1.5"/>
<text x="432" y="349.4" font-size="14.8" text-anchor="end" fill="#000" >0.2</text>
<text x="432" y="396.57" font-size="14.8" text-anchor="end" fill="#000" >0.15</text>
<text x="432" y="443.75" font-size="14.8" text-anchor="end" fill="#000" >0.1</text>
<text x="432" y="490.92" font-size="14.8" text-anchor="end" fill="#000" >0.05</text>
<text x="432" y="538.1" font-size="14.8" text-anchor="end" fill="#000" >0</text>
<text x="450.3" y="565.9" font-size="14.8" text-anchor="middle" fill="#000" >0</text>
<text x="490.6" y="565.9" font-size="14.8" text-anchor="middle" fill="#000" >0.2</text>
<text x="530.9" y="565.9" font-size="14.8" text-anchor="middle" fill="#000" >0.4</text>
<text x="571.2" y="565.9" font-size="14.8" text-anchor="middle" fill="#000" >0.6</text>
<text x="611.5" y="565.9" font-size="14.8" text-anchor="middle" fill="#000" >0.8</text>
<text x="651.8" y="565.9" font-size="14.8" text-anchor="middle" fill="#000" >1</text>
<text x="417" y="590.4" font-size="14.8">Electromechanical coupling factor K<tspan dy="-6" font-size="10.4">2</tspan><tspan dy="6"> (%)</tspan></text>
<text transform="translate(366,437.6) rotate(-90)" font-size="14.8" text-anchor="middle">Normalized output power</text>
<text transform="translate(386.5,440.3) rotate(-90)" font-size="14.8" text-anchor="middle">(mW·rad/gm<tspan dy="-5" font-size="10.4">2</tspan><tspan dy="5">s</tspan><tspan dy="-5" font-size="10.4">4</tspan><tspan dy="5">)</tspan></text>
<polyline fill="none" stroke="#5cb446" stroke-width="1.5" stroke-linejoin="round" points="452.31,507.42 454.33,481.08 456.35,463.37 458.36,450.34 460.38,437.56 462.39,425.47 464.41,415.98 466.42,408.33 468.44,401.89 470.45,396.84 490.6,367.78 510.75,359.57 530.9,356.37 551.05,355.23 571.2,354.38 591.35,353.72 611.5,353.25 631.65,352.97 651.8,352.69"/>
<polyline fill="none" stroke="#4682bf" stroke-width="1.5" stroke-linejoin="round" points="452.31,520.63 454.33,507.6 456.35,496.31 458.36,486.6 460.38,478.19 462.39,471.47 464.41,465.6 466.42,460.39 468.44,455.84 470.45,451.94 490.6,425.9 510.75,416.47 530.9,412.03 551.05,409.77 571.2,408.82 591.35,408.16 611.5,407.79 631.65,407.5 651.8,407.31"/>
<polyline fill="none" stroke="#ff8a1e" stroke-width="1.5" stroke-linejoin="round" points="452.31,528.37 454.33,523.27 456.35,518.56 458.36,514.38 460.38,510.88 462.39,507.91 464.41,505.28 466.42,502.9 468.44,500.72 470.45,498.65 490.6,481.85 510.75,472.7 530.9,467.32 551.05,464.77 571.2,463.36 591.35,462.41 611.5,461.75 631.65,461.19 651.8,460.81"/>
<circle cx="549.6" cy="404" r="5.3" fill="#1a5c84" stroke="#1c4f6e" stroke-width="0.8"/>
<polygon points="469.7,356.4 463.3,367.4 476.2,367.4" fill="#4caa4c" stroke="#26404a" stroke-width="1"/>
<polygon points="570.4,458.9 575.5,464 570.4,469.1 565.3,464" fill="#ff8000" stroke="#3a3a3a" stroke-width="0.9"/>
<circle cx="486.6" cy="500.9" r="5.3" fill="#1a5c84" stroke="#1c4f6e" stroke-width="0.8"/>
<polygon points="486.6,511 480.3,522.3 493,522.3" fill="#4caa4c" stroke="#26404a" stroke-width="1"/>
<polygon points="486.1,528.9 491.2,533.8 486.1,538.7 481,533.8" fill="#ff8000" stroke="#3a3a3a" stroke-width="0.9"/>
<line x1="494.9" y1="500.9" x2="521" y2="500.9" stroke="#3d7aa6" stroke-width="1.6" />
<line x1="494.9" y1="518.1" x2="521" y2="518.1" stroke="#5cb446" stroke-width="1.6" />
<line x1="494.9" y1="533.8" x2="521" y2="533.8" stroke="#ff8a1e" stroke-width="1.6" />
<text x="528.8" y="504.6" font-size="12.6" text-anchor="start" fill="#000" >(100) BFMO epi.</text>
<text x="528.8" y="521.4" font-size="12.6" text-anchor="start" fill="#000" >(100) oriented BFO</text>
<text x="528.8" y="538.8" font-size="12.6" text-anchor="start" fill="#000" >PZT</text>
<text x="-0.4" y="11.3" font-size="21" font-weight="bold">a</text>
<text x="14.4" y="316.1" font-size="21" font-weight="bold">b</text>
<text x="352.6" y="11.9" font-size="21" font-weight="bold">c</text>
<text x="352.3" y="316.1" font-size="21" font-weight="bold">d</text>
</svg>
</body></html>
